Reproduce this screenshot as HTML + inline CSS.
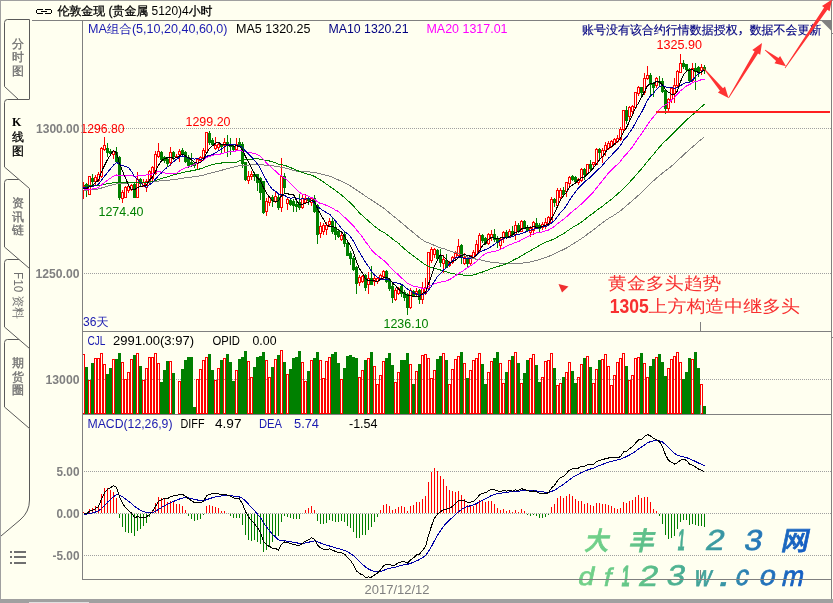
<!DOCTYPE html>
<html><head><meta charset="utf-8"><title>伦敦金现 4小时 K线图</title>
<style>
html,body{margin:0;padding:0;background:#FFFFF0;}
body{width:833px;height:603px;overflow:hidden;position:relative;}
svg{position:absolute;left:0;top:0;display:block;}
svg rect, svg line, svg polyline{shape-rendering:crispEdges;}
</style></head><body>
<svg width="833" height="603" viewBox="0 0 833 603">
<rect x="0" y="0" width="833" height="603" fill="#FFFFF0"/>
<rect x="0" y="0" width="833" height="1" fill="#A0A0A0"/>
<rect x="0" y="0" width="1" height="603" fill="#A0A0A0"/>
<rect x="0" y="599" width="833" height="4" fill="#A0A0A0"/>
<rect x="29" y="602" width="60" height="1" fill="#E0E0E0"/>
<rect x="831" y="0" width="1" height="599" fill="#808080"/>
<rect x="832" y="33" width="1" height="1" fill="#808080"/>
<rect x="32" y="20" width="800" height="1" fill="#808080"/>
<rect x="82" y="20" width="1" height="560" fill="#808080"/>
<rect x="82" y="331" width="750" height="1" fill="#808080"/>
<rect x="82" y="414" width="750" height="1" fill="#808080"/>
<rect x="82" y="579" width="750" height="1" fill="#808080"/>
<rect x="700" y="322" width="1" height="9" fill="#808080"/>
<rect x="700" y="405" width="1" height="9" fill="#808080"/>
<rect x="700" y="570" width="1" height="9" fill="#808080"/>
<polygon points="821.5,21 831,21 831,30.5" fill="#808080"/>
<line x1="84" y1="128.5" x2="831" y2="128.5" stroke="#A0A0A0" stroke-dasharray="1 1"/>
<line x1="84" y1="273.5" x2="831" y2="273.5" stroke="#A0A0A0" stroke-dasharray="1 1"/>
<line x1="84" y1="379.5" x2="831" y2="379.5" stroke="#A0A0A0" stroke-dasharray="1 1"/>
<line x1="84" y1="471.5" x2="831" y2="471.5" stroke="#A0A0A0" stroke-dasharray="1 1"/>
<line x1="84" y1="513.5" x2="831" y2="513.5" stroke="#A0A0A0" stroke-dasharray="1 1"/>
<line x1="84" y1="555.5" x2="831" y2="555.5" stroke="#A0A0A0" stroke-dasharray="1 1"/>
<path d="M18.5,99.5 L4.5,86.5 L4.5,22.5 Q4.5,19.5 7.5,19.5 L29.5,19.5 L29.5,99.5" fill="#FFFFF0" stroke="#5A5A5A" stroke-width="1"/>
<path d="M29.5,428.5 L4.5,407.0 L4.5,342.5 Q4.5,339.5 7.5,339.5 L29.5,339.5 L29.5,428.5" fill="#FFFFF0" stroke="#5A5A5A" stroke-width="1"/>
<path d="M29.5,348.5 L4.5,327.0 L4.5,262.5 Q4.5,259.5 7.5,259.5 L29.5,259.5 L29.5,348.5" fill="#FFFFF0" stroke="#5A5A5A" stroke-width="1"/>
<path d="M29.5,268.5 L4.5,247.0 L4.5,182.5 Q4.5,179.5 7.5,179.5 L29.5,179.5 L29.5,268.5" fill="#FFFFF0" stroke="#5A5A5A" stroke-width="1"/>
<path d="M29.5,428.5 L29.5,500 Q29.5,512 20,520 L1,536" fill="none" stroke="#5A5A5A" stroke-width="1"/>
<polygon points="4.5,102.5 7.5,99.5 31,99.5 31,190.0 4.5,167.0" fill="#FFFFF0"/>
<path d="M29.5,188.5 L4.5,167.0 L4.5,102.5 Q4.5,99.5 7.5,99.5 L29.5,99.5" fill="#FFFFF0" stroke="#5A5A5A" stroke-width="1"/>
<text x="12" y="47.5" fill="#707070" stroke="#707070" stroke-width="0.3" font-size="12" font-weight="normal" font-family="'Liberation Sans','WenQuanYi Zen Hei','Noto Sans CJK SC',sans-serif">分</text>
<text x="12" y="61.0" fill="#707070" stroke="#707070" stroke-width="0.3" font-size="12" font-weight="normal" font-family="'Liberation Sans','WenQuanYi Zen Hei','Noto Sans CJK SC',sans-serif">时</text>
<text x="12" y="74.5" fill="#707070" stroke="#707070" stroke-width="0.3" font-size="12" font-weight="normal" font-family="'Liberation Sans','WenQuanYi Zen Hei','Noto Sans CJK SC',sans-serif">图</text>
<text x="12" y="126" fill="#000" font-size="12" font-weight="bold" font-family="'Liberation Serif',serif">K</text>
<text x="12" y="141.0" fill="#000" stroke="#000" stroke-width="0.3" font-size="12" font-weight="normal" font-family="'Liberation Sans','WenQuanYi Zen Hei','Noto Sans CJK SC',sans-serif">线</text>
<text x="12" y="154.5" fill="#000" stroke="#000" stroke-width="0.3" font-size="12" font-weight="normal" font-family="'Liberation Sans','WenQuanYi Zen Hei','Noto Sans CJK SC',sans-serif">图</text>
<text x="12" y="207.0" fill="#707070" stroke="#707070" stroke-width="0.3" font-size="12" font-weight="normal" font-family="'Liberation Sans','WenQuanYi Zen Hei','Noto Sans CJK SC',sans-serif">资</text>
<text x="12" y="220.5" fill="#707070" stroke="#707070" stroke-width="0.3" font-size="12" font-weight="normal" font-family="'Liberation Sans','WenQuanYi Zen Hei','Noto Sans CJK SC',sans-serif">讯</text>
<text x="12" y="234.0" fill="#707070" stroke="#707070" stroke-width="0.3" font-size="12" font-weight="normal" font-family="'Liberation Sans','WenQuanYi Zen Hei','Noto Sans CJK SC',sans-serif">链</text>
<text transform="translate(14,272) rotate(90)" fill="#707070" font-size="12" font-family="'Liberation Sans','WenQuanYi Zen Hei','Noto Sans CJK SC',sans-serif" textLength="47" lengthAdjust="spacingAndGlyphs">F10 资料</text>
<text x="12" y="367.0" fill="#707070" stroke="#707070" stroke-width="0.3" font-size="12" font-weight="normal" font-family="'Liberation Sans','WenQuanYi Zen Hei','Noto Sans CJK SC',sans-serif">期</text>
<text x="12" y="380.5" fill="#707070" stroke="#707070" stroke-width="0.3" font-size="12" font-weight="normal" font-family="'Liberation Sans','WenQuanYi Zen Hei','Noto Sans CJK SC',sans-serif">货</text>
<text x="12" y="394.0" fill="#707070" stroke="#707070" stroke-width="0.3" font-size="12" font-weight="normal" font-family="'Liberation Sans','WenQuanYi Zen Hei','Noto Sans CJK SC',sans-serif">圈</text>
<rect x="10" y="551" width="2" height="2" fill="#707070"/>
<rect x="14" y="551" width="12" height="2" fill="#707070"/>
<rect x="10" y="556" width="2" height="2" fill="#707070"/>
<rect x="14" y="556" width="12" height="2" fill="#707070"/>
<rect x="10" y="562" width="2" height="2" fill="#707070"/>
<rect x="14" y="562" width="12" height="2" fill="#707070"/>
<rect x="37" y="9" width="6" height="1" fill="#000"/>
<rect x="36" y="10" width="1" height="3" fill="#000"/>
<rect x="37" y="13" width="6" height="1" fill="#000"/>
<rect x="41" y="11" width="6" height="1" fill="#000"/>
<rect x="45" y="9" width="6" height="1" fill="#000"/>
<rect x="51" y="10" width="1" height="3" fill="#000"/>
<rect x="45" y="13" width="6" height="1" fill="#000"/>
<text x="57.5" y="15" fill="#000" font-size="12" font-weight="normal" font-family="'Liberation Sans','WenQuanYi Zen Hei','Noto Sans CJK SC',sans-serif" textLength="155.0" lengthAdjust="spacingAndGlyphs"><tspan stroke="#000" stroke-width="0.3">伦敦金现 (贵金属</tspan> 5120)4<tspan stroke="#000" stroke-width="0.3">小时</tspan></text>
<text x="88" y="33" fill="#1A1AB0" font-size="12" font-weight="normal" font-family="'Liberation Sans','WenQuanYi Zen Hei','Noto Sans CJK SC',sans-serif" textLength="139.5" lengthAdjust="spacingAndGlyphs">MA组合(5,10,20,40,60,0)</text>
<text x="236" y="33" fill="#000" font-size="12" font-weight="normal" font-family="'Liberation Sans','WenQuanYi Zen Hei',sans-serif" textLength="74.5" lengthAdjust="spacingAndGlyphs">MA5 1320.25</text>
<text x="328.5" y="33" fill="#000080" font-size="12" font-weight="normal" font-family="'Liberation Sans','WenQuanYi Zen Hei',sans-serif" textLength="80.0" lengthAdjust="spacingAndGlyphs">MA10 1320.21</text>
<text x="426.5" y="33" fill="#FF00FF" font-size="12" font-weight="normal" font-family="'Liberation Sans','WenQuanYi Zen Hei',sans-serif" textLength="81.0" lengthAdjust="spacingAndGlyphs">MA20 1317.01</text>
<text x="582" y="33.7" fill="#000080" font-size="12" font-weight="normal" font-family="'Liberation Sans','WenQuanYi Zen Hei','Noto Sans CJK SC',sans-serif" textLength="239.5" lengthAdjust="spacingAndGlyphs" stroke="#000080" stroke-width="0.15">账号没有该合约行情数据授权<tspan font-family="'Noto Sans CJK SC',sans-serif">，</tspan>数据不会更新</text>
<text x="36" y="133" fill="#808080" font-size="12" font-weight="bold" font-family="'Liberation Sans','WenQuanYi Zen Hei',sans-serif" textLength="43.5" lengthAdjust="spacingAndGlyphs">1300.00</text>
<text x="35.5" y="278" fill="#808080" font-size="12" font-weight="bold" font-family="'Liberation Sans','WenQuanYi Zen Hei',sans-serif" textLength="44.0" lengthAdjust="spacingAndGlyphs">1250.00</text>
<text x="45.5" y="384" fill="#808080" font-size="12" font-weight="bold" font-family="'Liberation Sans','WenQuanYi Zen Hei',sans-serif" textLength="34.0" lengthAdjust="spacingAndGlyphs">13000</text>
<text x="56.5" y="476" fill="#808080" font-size="12" font-weight="bold" font-family="'Liberation Sans','WenQuanYi Zen Hei',sans-serif" textLength="23.0" lengthAdjust="spacingAndGlyphs">5.00</text>
<text x="56.5" y="518" fill="#808080" font-size="12" font-weight="bold" font-family="'Liberation Sans','WenQuanYi Zen Hei',sans-serif" textLength="23.0" lengthAdjust="spacingAndGlyphs">0.00</text>
<text x="52.5" y="560" fill="#808080" font-size="12" font-weight="bold" font-family="'Liberation Sans','WenQuanYi Zen Hei',sans-serif" textLength="27.0" lengthAdjust="spacingAndGlyphs">-5.00</text>
<text x="364.5" y="593.5" fill="#808080" font-size="12" font-weight="normal" font-family="'Liberation Sans','WenQuanYi Zen Hei',sans-serif" textLength="65.0" lengthAdjust="spacingAndGlyphs">2017/12/12</text>
<rect x="83" y="182" width="1" height="4" fill="#FF0000"/>
<rect x="83" y="191" width="1" height="8" fill="#FF0000"/>
<rect x="82.5" y="186.5" width="2" height="4" fill="none" stroke="#FF0000"/>
<rect x="86" y="183" width="1" height="14" fill="#008000"/>
<rect x="85" y="184" width="3" height="6" fill="#008000"/>
<rect x="88.5" y="176.5" width="2" height="18" fill="none" stroke="#FF0000"/>
<rect x="92" y="174" width="1" height="11" fill="#008000"/>
<rect x="91" y="178" width="3" height="4" fill="#008000"/>
<rect x="95" y="175" width="1" height="2" fill="#FF0000"/>
<rect x="95" y="182" width="1" height="3" fill="#FF0000"/>
<rect x="94.5" y="177.5" width="2" height="4" fill="none" stroke="#FF0000"/>
<rect x="98" y="172" width="1" height="2" fill="#FF0000"/>
<rect x="98" y="181" width="1" height="1" fill="#FF0000"/>
<rect x="97.5" y="174.5" width="2" height="6" fill="none" stroke="#FF0000"/>
<rect x="101" y="147" width="1" height="1" fill="#FF0000"/>
<rect x="101" y="177" width="1" height="1" fill="#FF0000"/>
<rect x="100.5" y="148.5" width="2" height="28" fill="none" stroke="#FF0000"/>
<rect x="104" y="137" width="1" height="8" fill="#FF0000"/>
<rect x="104" y="150" width="1" height="1" fill="#FF0000"/>
<rect x="103.5" y="145.5" width="2" height="4" fill="none" stroke="#FF0000"/>
<rect x="107" y="143" width="1" height="14" fill="#008000"/>
<rect x="106" y="148" width="3" height="5" fill="#008000"/>
<rect x="110" y="149" width="1" height="7" fill="#008000"/>
<rect x="109" y="151" width="3" height="3" fill="#008000"/>
<rect x="113" y="150" width="1" height="1" fill="#FF0000"/>
<rect x="113" y="155" width="1" height="4" fill="#FF0000"/>
<rect x="112.5" y="151.5" width="2" height="3" fill="none" stroke="#FF0000"/>
<rect x="116" y="147" width="1" height="15" fill="#008000"/>
<rect x="115" y="152" width="3" height="10" fill="#008000"/>
<rect x="119" y="156" width="1" height="44" fill="#008000"/>
<rect x="118" y="157" width="3" height="41" fill="#008000"/>
<rect x="122" y="190" width="1" height="2" fill="#FF0000"/>
<rect x="122" y="199" width="1" height="4" fill="#FF0000"/>
<rect x="121.5" y="192.5" width="2" height="6" fill="none" stroke="#FF0000"/>
<rect x="125" y="186" width="1" height="1" fill="#FF0000"/>
<rect x="124.5" y="187.5" width="2" height="10" fill="none" stroke="#FF0000"/>
<rect x="128" y="183" width="1" height="3" fill="#FF0000"/>
<rect x="128" y="191" width="1" height="2" fill="#FF0000"/>
<rect x="127.5" y="186.5" width="2" height="4" fill="none" stroke="#FF0000"/>
<rect x="131" y="184" width="1" height="1" fill="#FF0000"/>
<rect x="131" y="190" width="1" height="1" fill="#FF0000"/>
<rect x="130.5" y="185.5" width="2" height="4" fill="none" stroke="#FF0000"/>
<rect x="134" y="183" width="1" height="15" fill="#008000"/>
<rect x="133" y="184" width="3" height="14" fill="#008000"/>
<rect x="137" y="172" width="1" height="7" fill="#FF0000"/>
<rect x="136.5" y="179.5" width="2" height="18" fill="none" stroke="#FF0000"/>
<rect x="140" y="178" width="1" height="8" fill="#008000"/>
<rect x="139" y="179" width="3" height="5" fill="#008000"/>
<rect x="143" y="179" width="1" height="3" fill="#FF0000"/>
<rect x="142.5" y="182.5" width="2" height="4" fill="none" stroke="#FF0000"/>
<rect x="146" y="179" width="1" height="2" fill="#FF0000"/>
<rect x="146" y="188" width="1" height="4" fill="#FF0000"/>
<rect x="145.5" y="181.5" width="2" height="6" fill="none" stroke="#FF0000"/>
<rect x="149" y="170" width="1" height="1" fill="#FF0000"/>
<rect x="149" y="182" width="1" height="2" fill="#FF0000"/>
<rect x="148.5" y="171.5" width="2" height="10" fill="none" stroke="#FF0000"/>
<rect x="152" y="166" width="1" height="1" fill="#FF0000"/>
<rect x="152" y="179" width="1" height="2" fill="#FF0000"/>
<rect x="151.5" y="167.5" width="2" height="11" fill="none" stroke="#FF0000"/>
<rect x="155" y="151" width="1" height="3" fill="#FF0000"/>
<rect x="155" y="174" width="1" height="1" fill="#FF0000"/>
<rect x="154.5" y="154.5" width="2" height="19" fill="none" stroke="#FF0000"/>
<rect x="158" y="143" width="1" height="8" fill="#FF0000"/>
<rect x="158" y="157" width="1" height="1" fill="#FF0000"/>
<rect x="157.5" y="151.5" width="2" height="5" fill="none" stroke="#FF0000"/>
<rect x="161" y="151" width="1" height="10" fill="#008000"/>
<rect x="160" y="152" width="3" height="8" fill="#008000"/>
<rect x="164" y="156" width="1" height="7" fill="#008000"/>
<rect x="163" y="157" width="3" height="4" fill="#008000"/>
<rect x="167" y="158" width="1" height="9" fill="#008000"/>
<rect x="166" y="159" width="3" height="5" fill="#008000"/>
<rect x="170" y="147" width="1" height="5" fill="#FF0000"/>
<rect x="170" y="163" width="1" height="3" fill="#FF0000"/>
<rect x="169.5" y="152.5" width="2" height="10" fill="none" stroke="#FF0000"/>
<rect x="173" y="151" width="1" height="9" fill="#008000"/>
<rect x="172" y="152" width="3" height="5" fill="#008000"/>
<rect x="176" y="154" width="1" height="2" fill="#FF0000"/>
<rect x="176" y="157" width="1" height="1" fill="#FF0000"/>
<rect x="175" y="156" width="3" height="1" fill="#FF0000"/>
<rect x="179" y="149" width="1" height="2" fill="#FF0000"/>
<rect x="179" y="155" width="1" height="7" fill="#FF0000"/>
<rect x="178.5" y="151.5" width="2" height="3" fill="none" stroke="#FF0000"/>
<rect x="182" y="148" width="1" height="9" fill="#008000"/>
<rect x="181" y="150" width="3" height="5" fill="#008000"/>
<rect x="185" y="151" width="1" height="12" fill="#008000"/>
<rect x="184" y="152" width="3" height="10" fill="#008000"/>
<rect x="188" y="155" width="1" height="13" fill="#008000"/>
<rect x="187" y="157" width="3" height="9" fill="#008000"/>
<rect x="191" y="153" width="1" height="14" fill="#008000"/>
<rect x="190" y="162" width="3" height="3" fill="#008000"/>
<rect x="194" y="162" width="1" height="6" fill="#008000"/>
<rect x="193" y="163" width="3" height="3" fill="#008000"/>
<rect x="197" y="158" width="1" height="1" fill="#FF0000"/>
<rect x="197" y="164" width="1" height="6" fill="#FF0000"/>
<rect x="196.5" y="159.5" width="2" height="4" fill="none" stroke="#FF0000"/>
<rect x="200" y="156" width="1" height="1" fill="#FF0000"/>
<rect x="200" y="161" width="1" height="2" fill="#FF0000"/>
<rect x="199.5" y="157.5" width="2" height="3" fill="none" stroke="#FF0000"/>
<rect x="203" y="148" width="1" height="2" fill="#FF0000"/>
<rect x="203" y="158" width="1" height="1" fill="#FF0000"/>
<rect x="202.5" y="150.5" width="2" height="7" fill="none" stroke="#FF0000"/>
<rect x="206" y="153" width="1" height="1" fill="#FF0000"/>
<rect x="205.5" y="132.5" width="2" height="20" fill="none" stroke="#FF0000"/>
<rect x="209" y="131" width="1" height="14" fill="#008000"/>
<rect x="208" y="133" width="3" height="10" fill="#008000"/>
<rect x="212" y="138" width="1" height="8" fill="#008000"/>
<rect x="211" y="140" width="3" height="5" fill="#008000"/>
<rect x="215" y="137" width="1" height="8" fill="#FF0000"/>
<rect x="215" y="149" width="1" height="1" fill="#FF0000"/>
<rect x="214.5" y="145.5" width="2" height="3" fill="none" stroke="#FF0000"/>
<rect x="218" y="142" width="1" height="2" fill="#FF0000"/>
<rect x="218" y="148" width="1" height="3" fill="#FF0000"/>
<rect x="217.5" y="144.5" width="2" height="3" fill="none" stroke="#FF0000"/>
<rect x="221" y="144" width="1" height="10" fill="#008000"/>
<rect x="220" y="144" width="3" height="3" fill="#008000"/>
<rect x="224" y="138" width="1" height="4" fill="#FF0000"/>
<rect x="224" y="146" width="1" height="6" fill="#FF0000"/>
<rect x="223.5" y="142.5" width="2" height="3" fill="none" stroke="#FF0000"/>
<rect x="227" y="135" width="1" height="22" fill="#008000"/>
<rect x="226" y="142" width="3" height="4" fill="#008000"/>
<rect x="230" y="138" width="1" height="17" fill="#008000"/>
<rect x="229" y="144" width="3" height="3" fill="#008000"/>
<rect x="233" y="144" width="1" height="7" fill="#008000"/>
<rect x="232" y="146" width="3" height="4" fill="#008000"/>
<rect x="236" y="138" width="1" height="6" fill="#FF0000"/>
<rect x="236" y="150" width="1" height="1" fill="#FF0000"/>
<rect x="235.5" y="144.5" width="2" height="5" fill="none" stroke="#FF0000"/>
<rect x="239" y="138" width="1" height="9" fill="#008000"/>
<rect x="238" y="142" width="3" height="4" fill="#008000"/>
<rect x="242" y="142" width="1" height="26" fill="#008000"/>
<rect x="241" y="144" width="3" height="20" fill="#008000"/>
<rect x="245" y="162" width="1" height="19" fill="#008000"/>
<rect x="244" y="162" width="3" height="18" fill="#008000"/>
<rect x="248" y="171" width="1" height="5" fill="#FF0000"/>
<rect x="248" y="181" width="1" height="3" fill="#FF0000"/>
<rect x="247.5" y="176.5" width="2" height="4" fill="none" stroke="#FF0000"/>
<rect x="251" y="171" width="1" height="3" fill="#FF0000"/>
<rect x="251" y="177" width="1" height="3" fill="#FF0000"/>
<rect x="250.5" y="174.5" width="2" height="2" fill="none" stroke="#FF0000"/>
<rect x="254" y="172" width="1" height="9" fill="#008000"/>
<rect x="253" y="174" width="3" height="3" fill="#008000"/>
<rect x="257" y="174" width="1" height="17" fill="#008000"/>
<rect x="256" y="174" width="3" height="9" fill="#008000"/>
<rect x="260" y="177" width="1" height="23" fill="#008000"/>
<rect x="259" y="178" width="3" height="15" fill="#008000"/>
<rect x="263" y="181" width="1" height="33" fill="#008000"/>
<rect x="262" y="181" width="3" height="32" fill="#008000"/>
<rect x="266" y="198" width="1" height="3" fill="#FF0000"/>
<rect x="266" y="212" width="1" height="4" fill="#FF0000"/>
<rect x="265.5" y="201.5" width="2" height="10" fill="none" stroke="#FF0000"/>
<rect x="269" y="196" width="1" height="1" fill="#FF0000"/>
<rect x="269" y="203" width="1" height="3" fill="#FF0000"/>
<rect x="268.5" y="197.5" width="2" height="5" fill="none" stroke="#FF0000"/>
<rect x="272" y="195" width="1" height="12" fill="#008000"/>
<rect x="271" y="197" width="3" height="4" fill="#008000"/>
<rect x="275" y="191" width="1" height="5" fill="#FF0000"/>
<rect x="275" y="202" width="1" height="1" fill="#FF0000"/>
<rect x="274.5" y="196.5" width="2" height="5" fill="none" stroke="#FF0000"/>
<rect x="278" y="195" width="1" height="15" fill="#008000"/>
<rect x="277" y="197" width="3" height="11" fill="#008000"/>
<rect x="281" y="158" width="1" height="18" fill="#FF0000"/>
<rect x="281" y="208" width="1" height="4" fill="#FF0000"/>
<rect x="280.5" y="176.5" width="2" height="31" fill="none" stroke="#FF0000"/>
<rect x="284" y="173" width="1" height="21" fill="#008000"/>
<rect x="283" y="176" width="3" height="12" fill="#008000"/>
<rect x="287" y="198" width="1" height="1" fill="#FF0000"/>
<rect x="287" y="204" width="1" height="6" fill="#FF0000"/>
<rect x="286.5" y="199.5" width="2" height="4" fill="none" stroke="#FF0000"/>
<rect x="290" y="198" width="1" height="8" fill="#008000"/>
<rect x="289" y="200" width="3" height="5" fill="#008000"/>
<rect x="293" y="199" width="1" height="13" fill="#008000"/>
<rect x="292" y="201" width="3" height="5" fill="#008000"/>
<rect x="296" y="200" width="1" height="12" fill="#008000"/>
<rect x="295" y="204" width="3" height="3" fill="#008000"/>
<rect x="299" y="194" width="1" height="16" fill="#008000"/>
<rect x="298" y="202" width="3" height="6" fill="#008000"/>
<rect x="302" y="194" width="1" height="4" fill="#FF0000"/>
<rect x="302" y="208" width="1" height="1" fill="#FF0000"/>
<rect x="301.5" y="198.5" width="2" height="9" fill="none" stroke="#FF0000"/>
<rect x="305" y="194" width="1" height="4" fill="#FF0000"/>
<rect x="305" y="203" width="1" height="1" fill="#FF0000"/>
<rect x="304.5" y="198.5" width="2" height="4" fill="none" stroke="#FF0000"/>
<rect x="308" y="196" width="1" height="9" fill="#008000"/>
<rect x="307" y="198" width="3" height="3" fill="#008000"/>
<rect x="311" y="197" width="1" height="1" fill="#FF0000"/>
<rect x="311" y="203" width="1" height="3" fill="#FF0000"/>
<rect x="310.5" y="198.5" width="2" height="4" fill="none" stroke="#FF0000"/>
<rect x="314" y="195" width="1" height="18" fill="#008000"/>
<rect x="313" y="198" width="3" height="14" fill="#008000"/>
<rect x="317" y="204" width="1" height="40" fill="#008000"/>
<rect x="316" y="205" width="3" height="30" fill="#008000"/>
<rect x="320" y="222" width="1" height="4" fill="#FF0000"/>
<rect x="320" y="234" width="1" height="4" fill="#FF0000"/>
<rect x="319.5" y="226.5" width="2" height="7" fill="none" stroke="#FF0000"/>
<rect x="323" y="223" width="1" height="2" fill="#FF0000"/>
<rect x="323" y="232" width="1" height="3" fill="#FF0000"/>
<rect x="322.5" y="225.5" width="2" height="6" fill="none" stroke="#FF0000"/>
<rect x="326" y="222" width="1" height="3" fill="#FF0000"/>
<rect x="326" y="230" width="1" height="5" fill="#FF0000"/>
<rect x="325.5" y="225.5" width="2" height="4" fill="none" stroke="#FF0000"/>
<rect x="329" y="218" width="1" height="3" fill="#FF0000"/>
<rect x="329" y="225" width="1" height="2" fill="#FF0000"/>
<rect x="328.5" y="221.5" width="2" height="3" fill="none" stroke="#FF0000"/>
<rect x="332" y="217" width="1" height="17" fill="#008000"/>
<rect x="331" y="221" width="3" height="11" fill="#008000"/>
<rect x="335" y="220" width="1" height="20" fill="#008000"/>
<rect x="334" y="227" width="3" height="8" fill="#008000"/>
<rect x="338" y="229" width="1" height="9" fill="#008000"/>
<rect x="337" y="231" width="3" height="6" fill="#008000"/>
<rect x="341" y="233" width="1" height="2" fill="#FF0000"/>
<rect x="341" y="240" width="1" height="1" fill="#FF0000"/>
<rect x="340.5" y="235.5" width="2" height="4" fill="none" stroke="#FF0000"/>
<rect x="344" y="232" width="1" height="15" fill="#008000"/>
<rect x="343" y="234" width="3" height="10" fill="#008000"/>
<rect x="347" y="241" width="1" height="15" fill="#008000"/>
<rect x="346" y="243" width="3" height="13" fill="#008000"/>
<rect x="350" y="251" width="1" height="14" fill="#008000"/>
<rect x="349" y="253" width="3" height="6" fill="#008000"/>
<rect x="353" y="256" width="1" height="15" fill="#008000"/>
<rect x="352" y="258" width="3" height="12" fill="#008000"/>
<rect x="356" y="266" width="1" height="28" fill="#008000"/>
<rect x="355" y="267" width="3" height="17" fill="#008000"/>
<rect x="359" y="275" width="1" height="2" fill="#FF0000"/>
<rect x="359" y="283" width="1" height="3" fill="#FF0000"/>
<rect x="358.5" y="277.5" width="2" height="5" fill="none" stroke="#FF0000"/>
<rect x="362" y="275" width="1" height="1" fill="#FF0000"/>
<rect x="362" y="282" width="1" height="1" fill="#FF0000"/>
<rect x="361.5" y="276.5" width="2" height="5" fill="none" stroke="#FF0000"/>
<rect x="365" y="274" width="1" height="17" fill="#008000"/>
<rect x="364" y="275" width="3" height="13" fill="#008000"/>
<rect x="368" y="272" width="1" height="6" fill="#FF0000"/>
<rect x="368" y="285" width="1" height="9" fill="#FF0000"/>
<rect x="367.5" y="278.5" width="2" height="6" fill="none" stroke="#FF0000"/>
<rect x="371" y="266" width="1" height="19" fill="#008000"/>
<rect x="370" y="278" width="3" height="7" fill="#008000"/>
<rect x="374" y="276" width="1" height="2" fill="#FF0000"/>
<rect x="374" y="282" width="1" height="4" fill="#FF0000"/>
<rect x="373.5" y="278.5" width="2" height="3" fill="none" stroke="#FF0000"/>
<rect x="377" y="277" width="1" height="1" fill="#FF0000"/>
<rect x="377" y="282" width="1" height="2" fill="#FF0000"/>
<rect x="376.5" y="278.5" width="2" height="3" fill="none" stroke="#FF0000"/>
<rect x="380" y="274" width="1" height="1" fill="#FF0000"/>
<rect x="380" y="279" width="1" height="1" fill="#FF0000"/>
<rect x="379.5" y="275.5" width="2" height="3" fill="none" stroke="#FF0000"/>
<rect x="383" y="270" width="1" height="1" fill="#FF0000"/>
<rect x="383" y="277" width="1" height="2" fill="#FF0000"/>
<rect x="382.5" y="271.5" width="2" height="5" fill="none" stroke="#FF0000"/>
<rect x="386" y="270" width="1" height="13" fill="#008000"/>
<rect x="385" y="271" width="3" height="11" fill="#008000"/>
<rect x="389" y="278" width="1" height="13" fill="#008000"/>
<rect x="388" y="279" width="3" height="10" fill="#008000"/>
<rect x="392" y="284" width="1" height="19" fill="#008000"/>
<rect x="391" y="286" width="3" height="12" fill="#008000"/>
<rect x="395" y="288" width="1" height="2" fill="#FF0000"/>
<rect x="395" y="300" width="1" height="1" fill="#FF0000"/>
<rect x="394.5" y="290.5" width="2" height="9" fill="none" stroke="#FF0000"/>
<rect x="398" y="287" width="1" height="1" fill="#FF0000"/>
<rect x="398" y="294" width="1" height="1" fill="#FF0000"/>
<rect x="397.5" y="288.5" width="2" height="5" fill="none" stroke="#FF0000"/>
<rect x="401" y="284" width="1" height="13" fill="#008000"/>
<rect x="400" y="286" width="3" height="8" fill="#008000"/>
<rect x="404" y="290" width="1" height="11" fill="#008000"/>
<rect x="403" y="292" width="3" height="6" fill="#008000"/>
<rect x="407" y="293" width="1" height="22" fill="#008000"/>
<rect x="406" y="294" width="3" height="14" fill="#008000"/>
<rect x="410" y="288" width="1" height="2" fill="#FF0000"/>
<rect x="410" y="308" width="1" height="1" fill="#FF0000"/>
<rect x="409.5" y="290.5" width="2" height="17" fill="none" stroke="#FF0000"/>
<rect x="413" y="290" width="1" height="7" fill="#008000"/>
<rect x="412" y="291" width="3" height="5" fill="#008000"/>
<rect x="416" y="288" width="1" height="3" fill="#FF0000"/>
<rect x="416" y="295" width="1" height="2" fill="#FF0000"/>
<rect x="415.5" y="291.5" width="2" height="3" fill="none" stroke="#FF0000"/>
<rect x="419" y="289" width="1" height="15" fill="#008000"/>
<rect x="418" y="290" width="3" height="10" fill="#008000"/>
<rect x="422" y="282" width="1" height="6" fill="#FF0000"/>
<rect x="422" y="300" width="1" height="4" fill="#FF0000"/>
<rect x="421.5" y="288.5" width="2" height="11" fill="none" stroke="#FF0000"/>
<rect x="425" y="278" width="1" height="9" fill="#FF0000"/>
<rect x="425" y="294" width="1" height="1" fill="#FF0000"/>
<rect x="424.5" y="287.5" width="2" height="6" fill="none" stroke="#FF0000"/>
<rect x="427.5" y="252.5" width="2" height="36" fill="none" stroke="#FF0000"/>
<rect x="431" y="247" width="1" height="2" fill="#FF0000"/>
<rect x="431" y="261" width="1" height="2" fill="#FF0000"/>
<rect x="430.5" y="249.5" width="2" height="11" fill="none" stroke="#FF0000"/>
<rect x="434" y="248" width="1" height="1" fill="#FF0000"/>
<rect x="434" y="255" width="1" height="3" fill="#FF0000"/>
<rect x="433.5" y="249.5" width="2" height="5" fill="none" stroke="#FF0000"/>
<rect x="437" y="249" width="1" height="11" fill="#008000"/>
<rect x="436" y="250" width="3" height="9" fill="#008000"/>
<rect x="440" y="249" width="1" height="18" fill="#008000"/>
<rect x="439" y="256" width="3" height="7" fill="#008000"/>
<rect x="443" y="255" width="1" height="4" fill="#FF0000"/>
<rect x="443" y="264" width="1" height="9" fill="#FF0000"/>
<rect x="442.5" y="259.5" width="2" height="4" fill="none" stroke="#FF0000"/>
<rect x="446" y="254" width="1" height="14" fill="#008000"/>
<rect x="445" y="260" width="3" height="8" fill="#008000"/>
<rect x="449" y="261" width="1" height="1" fill="#FF0000"/>
<rect x="449" y="266" width="1" height="1" fill="#FF0000"/>
<rect x="448.5" y="262.5" width="2" height="3" fill="none" stroke="#FF0000"/>
<rect x="452" y="256" width="1" height="1" fill="#FF0000"/>
<rect x="452" y="263" width="1" height="1" fill="#FF0000"/>
<rect x="451.5" y="257.5" width="2" height="5" fill="none" stroke="#FF0000"/>
<rect x="455" y="251" width="1" height="2" fill="#FF0000"/>
<rect x="455" y="258" width="1" height="2" fill="#FF0000"/>
<rect x="454.5" y="253.5" width="2" height="4" fill="none" stroke="#FF0000"/>
<rect x="458" y="239" width="1" height="7" fill="#FF0000"/>
<rect x="458" y="256" width="1" height="1" fill="#FF0000"/>
<rect x="457.5" y="246.5" width="2" height="9" fill="none" stroke="#FF0000"/>
<rect x="461" y="244" width="1" height="20" fill="#008000"/>
<rect x="460" y="245" width="3" height="13" fill="#008000"/>
<rect x="464" y="253" width="1" height="4" fill="#FF0000"/>
<rect x="464" y="264" width="1" height="1" fill="#FF0000"/>
<rect x="463.5" y="257.5" width="2" height="6" fill="none" stroke="#FF0000"/>
<rect x="467" y="258" width="1" height="10" fill="#008000"/>
<rect x="466" y="259" width="3" height="5" fill="#008000"/>
<rect x="470" y="264" width="1" height="1" fill="#FF0000"/>
<rect x="469.5" y="255.5" width="2" height="8" fill="none" stroke="#FF0000"/>
<rect x="473" y="250" width="1" height="2" fill="#FF0000"/>
<rect x="472.5" y="252.5" width="2" height="5" fill="none" stroke="#FF0000"/>
<rect x="476" y="240" width="1" height="4" fill="#FF0000"/>
<rect x="476" y="255" width="1" height="1" fill="#FF0000"/>
<rect x="475.5" y="244.5" width="2" height="10" fill="none" stroke="#FF0000"/>
<rect x="479" y="233" width="1" height="2" fill="#FF0000"/>
<rect x="478.5" y="235.5" width="2" height="16" fill="none" stroke="#FF0000"/>
<rect x="482" y="234" width="1" height="9" fill="#008000"/>
<rect x="481" y="235" width="3" height="6" fill="#008000"/>
<rect x="485" y="237" width="1" height="8" fill="#008000"/>
<rect x="484" y="238" width="3" height="6" fill="#008000"/>
<rect x="488" y="233" width="1" height="1" fill="#FF0000"/>
<rect x="488" y="244" width="1" height="1" fill="#FF0000"/>
<rect x="487.5" y="234.5" width="2" height="9" fill="none" stroke="#FF0000"/>
<rect x="491" y="230" width="1" height="4" fill="#FF0000"/>
<rect x="491" y="238" width="1" height="3" fill="#FF0000"/>
<rect x="490.5" y="234.5" width="2" height="3" fill="none" stroke="#FF0000"/>
<rect x="494" y="229" width="1" height="13" fill="#008000"/>
<rect x="493" y="234" width="3" height="6" fill="#008000"/>
<rect x="497" y="236" width="1" height="12" fill="#008000"/>
<rect x="496" y="238" width="3" height="5" fill="#008000"/>
<rect x="500" y="237" width="1" height="2" fill="#FF0000"/>
<rect x="500" y="246" width="1" height="4" fill="#FF0000"/>
<rect x="499.5" y="239.5" width="2" height="6" fill="none" stroke="#FF0000"/>
<rect x="503" y="231" width="1" height="1" fill="#FF0000"/>
<rect x="503" y="239" width="1" height="4" fill="#FF0000"/>
<rect x="502.5" y="232.5" width="2" height="6" fill="none" stroke="#FF0000"/>
<rect x="506" y="230" width="1" height="8" fill="#008000"/>
<rect x="505" y="232" width="3" height="5" fill="#008000"/>
<rect x="509" y="229" width="1" height="2" fill="#FF0000"/>
<rect x="509" y="237" width="1" height="1" fill="#FF0000"/>
<rect x="508.5" y="231.5" width="2" height="5" fill="none" stroke="#FF0000"/>
<rect x="512" y="226" width="1" height="10" fill="#008000"/>
<rect x="511" y="231" width="3" height="4" fill="#008000"/>
<rect x="515" y="221" width="1" height="4" fill="#FF0000"/>
<rect x="515" y="235" width="1" height="5" fill="#FF0000"/>
<rect x="514.5" y="225.5" width="2" height="9" fill="none" stroke="#FF0000"/>
<rect x="518" y="223" width="1" height="10" fill="#008000"/>
<rect x="517" y="225" width="3" height="7" fill="#008000"/>
<rect x="521" y="220" width="1" height="1" fill="#FF0000"/>
<rect x="520.5" y="221.5" width="2" height="10" fill="none" stroke="#FF0000"/>
<rect x="524" y="220" width="1" height="9" fill="#008000"/>
<rect x="523" y="221" width="3" height="8" fill="#008000"/>
<rect x="527" y="225" width="1" height="7" fill="#008000"/>
<rect x="526" y="227" width="3" height="4" fill="#008000"/>
<rect x="530" y="226" width="1" height="2" fill="#FF0000"/>
<rect x="530" y="233" width="1" height="4" fill="#FF0000"/>
<rect x="529.5" y="228.5" width="2" height="4" fill="none" stroke="#FF0000"/>
<rect x="533" y="221" width="1" height="1" fill="#FF0000"/>
<rect x="533" y="231" width="1" height="4" fill="#FF0000"/>
<rect x="532.5" y="222.5" width="2" height="8" fill="none" stroke="#FF0000"/>
<rect x="536" y="218" width="1" height="11" fill="#008000"/>
<rect x="535" y="223" width="3" height="5" fill="#008000"/>
<rect x="539" y="223" width="1" height="9" fill="#008000"/>
<rect x="538" y="225" width="3" height="4" fill="#008000"/>
<rect x="542" y="222" width="1" height="2" fill="#FF0000"/>
<rect x="542" y="228" width="1" height="2" fill="#FF0000"/>
<rect x="541.5" y="224.5" width="2" height="3" fill="none" stroke="#FF0000"/>
<rect x="545" y="218" width="1" height="4" fill="#FF0000"/>
<rect x="545" y="227" width="1" height="2" fill="#FF0000"/>
<rect x="544.5" y="222.5" width="2" height="4" fill="none" stroke="#FF0000"/>
<rect x="548" y="216" width="1" height="1" fill="#FF0000"/>
<rect x="548" y="225" width="1" height="1" fill="#FF0000"/>
<rect x="547.5" y="217.5" width="2" height="7" fill="none" stroke="#FF0000"/>
<rect x="551" y="197" width="1" height="2" fill="#FF0000"/>
<rect x="550.5" y="199.5" width="2" height="23" fill="none" stroke="#FF0000"/>
<rect x="554" y="198" width="1" height="9" fill="#008000"/>
<rect x="553" y="199" width="3" height="4" fill="#008000"/>
<rect x="557" y="188" width="1" height="2" fill="#FF0000"/>
<rect x="556.5" y="190.5" width="2" height="15" fill="none" stroke="#FF0000"/>
<rect x="560" y="188" width="1" height="2" fill="#FF0000"/>
<rect x="560" y="198" width="1" height="1" fill="#FF0000"/>
<rect x="559.5" y="190.5" width="2" height="7" fill="none" stroke="#FF0000"/>
<rect x="563" y="187" width="1" height="10" fill="#008000"/>
<rect x="562" y="190" width="3" height="5" fill="#008000"/>
<rect x="566" y="192" width="1" height="5" fill="#FF0000"/>
<rect x="565.5" y="182.5" width="2" height="9" fill="none" stroke="#FF0000"/>
<rect x="569" y="176" width="1" height="1" fill="#FF0000"/>
<rect x="569" y="184" width="1" height="2" fill="#FF0000"/>
<rect x="568.5" y="177.5" width="2" height="6" fill="none" stroke="#FF0000"/>
<rect x="572" y="175" width="1" height="6" fill="#008000"/>
<rect x="571" y="176" width="3" height="4" fill="#008000"/>
<rect x="575" y="176" width="1" height="7" fill="#008000"/>
<rect x="574" y="177" width="3" height="5" fill="#008000"/>
<rect x="578" y="178" width="1" height="1" fill="#FF0000"/>
<rect x="578" y="183" width="1" height="2" fill="#FF0000"/>
<rect x="577.5" y="179.5" width="2" height="3" fill="none" stroke="#FF0000"/>
<rect x="581" y="168" width="1" height="1" fill="#FF0000"/>
<rect x="581" y="181" width="1" height="1" fill="#FF0000"/>
<rect x="580.5" y="169.5" width="2" height="11" fill="none" stroke="#FF0000"/>
<rect x="584" y="168" width="1" height="12" fill="#008000"/>
<rect x="583" y="169" width="3" height="6" fill="#008000"/>
<rect x="587" y="174" width="1" height="1" fill="#FF0000"/>
<rect x="586.5" y="164.5" width="2" height="9" fill="none" stroke="#FF0000"/>
<rect x="590" y="160" width="1" height="11" fill="#008000"/>
<rect x="589" y="164" width="3" height="5" fill="#008000"/>
<rect x="593" y="165" width="1" height="3" fill="#FF0000"/>
<rect x="592.5" y="162.5" width="2" height="2" fill="none" stroke="#FF0000"/>
<rect x="596" y="148" width="1" height="1" fill="#FF0000"/>
<rect x="595.5" y="149.5" width="2" height="15" fill="none" stroke="#FF0000"/>
<rect x="599" y="148" width="1" height="11" fill="#008000"/>
<rect x="598" y="149" width="3" height="4" fill="#008000"/>
<rect x="602" y="148" width="1" height="2" fill="#FF0000"/>
<rect x="602" y="157" width="1" height="6" fill="#FF0000"/>
<rect x="601.5" y="150.5" width="2" height="6" fill="none" stroke="#FF0000"/>
<rect x="605" y="142" width="1" height="3" fill="#FF0000"/>
<rect x="605" y="151" width="1" height="5" fill="#FF0000"/>
<rect x="604.5" y="145.5" width="2" height="5" fill="none" stroke="#FF0000"/>
<rect x="608" y="141" width="1" height="2" fill="#FF0000"/>
<rect x="608" y="149" width="1" height="1" fill="#FF0000"/>
<rect x="607.5" y="143.5" width="2" height="5" fill="none" stroke="#FF0000"/>
<rect x="611" y="140" width="1" height="1" fill="#FF0000"/>
<rect x="611" y="147" width="1" height="1" fill="#FF0000"/>
<rect x="610.5" y="141.5" width="2" height="5" fill="none" stroke="#FF0000"/>
<rect x="614" y="138" width="1" height="1" fill="#FF0000"/>
<rect x="613.5" y="139.5" width="2" height="5" fill="none" stroke="#FF0000"/>
<rect x="617" y="135" width="1" height="3" fill="#FF0000"/>
<rect x="617" y="142" width="1" height="1" fill="#FF0000"/>
<rect x="616.5" y="138.5" width="2" height="3" fill="none" stroke="#FF0000"/>
<rect x="620" y="127" width="1" height="2" fill="#FF0000"/>
<rect x="620" y="140" width="1" height="1" fill="#FF0000"/>
<rect x="619.5" y="129.5" width="2" height="10" fill="none" stroke="#FF0000"/>
<rect x="623" y="130" width="1" height="2" fill="#FF0000"/>
<rect x="622.5" y="110.5" width="2" height="19" fill="none" stroke="#FF0000"/>
<rect x="626" y="106" width="1" height="18" fill="#008000"/>
<rect x="625" y="110" width="3" height="11" fill="#008000"/>
<rect x="629" y="106" width="1" height="1" fill="#FF0000"/>
<rect x="629" y="117" width="1" height="4" fill="#FF0000"/>
<rect x="628.5" y="107.5" width="2" height="9" fill="none" stroke="#FF0000"/>
<rect x="632" y="105" width="1" height="1" fill="#FF0000"/>
<rect x="632" y="112" width="1" height="2" fill="#FF0000"/>
<rect x="631.5" y="106.5" width="2" height="5" fill="none" stroke="#FF0000"/>
<rect x="635" y="108" width="1" height="1" fill="#FF0000"/>
<rect x="634.5" y="92.5" width="2" height="15" fill="none" stroke="#FF0000"/>
<rect x="638" y="86" width="1" height="1" fill="#FF0000"/>
<rect x="638" y="94" width="1" height="2" fill="#FF0000"/>
<rect x="637.5" y="87.5" width="2" height="6" fill="none" stroke="#FF0000"/>
<rect x="641" y="87" width="1" height="9" fill="#008000"/>
<rect x="640" y="87" width="3" height="6" fill="#008000"/>
<rect x="644" y="73" width="1" height="5" fill="#FF0000"/>
<rect x="644" y="93" width="1" height="2" fill="#FF0000"/>
<rect x="643.5" y="78.5" width="2" height="14" fill="none" stroke="#FF0000"/>
<rect x="647" y="66" width="1" height="9" fill="#FF0000"/>
<rect x="647" y="79" width="1" height="1" fill="#FF0000"/>
<rect x="646.5" y="75.5" width="2" height="3" fill="none" stroke="#FF0000"/>
<rect x="650" y="73" width="1" height="24" fill="#008000"/>
<rect x="649" y="75" width="3" height="10" fill="#008000"/>
<rect x="653" y="82" width="1" height="15" fill="#008000"/>
<rect x="652" y="84" width="3" height="4" fill="#008000"/>
<rect x="656" y="77" width="1" height="1" fill="#FF0000"/>
<rect x="656" y="86" width="1" height="2" fill="#FF0000"/>
<rect x="655.5" y="78.5" width="2" height="7" fill="none" stroke="#FF0000"/>
<rect x="659" y="76" width="1" height="10" fill="#008000"/>
<rect x="658" y="81" width="3" height="2" fill="#008000"/>
<rect x="662" y="78" width="1" height="15" fill="#008000"/>
<rect x="661" y="81" width="3" height="11" fill="#008000"/>
<rect x="665" y="90" width="1" height="24" fill="#008000"/>
<rect x="664" y="90" width="3" height="19" fill="#008000"/>
<rect x="668" y="98" width="1" height="1" fill="#FF0000"/>
<rect x="668" y="109" width="1" height="3" fill="#FF0000"/>
<rect x="667.5" y="99.5" width="2" height="9" fill="none" stroke="#FF0000"/>
<rect x="671" y="87" width="1" height="1" fill="#FF0000"/>
<rect x="671" y="100" width="1" height="3" fill="#FF0000"/>
<rect x="670.5" y="88.5" width="2" height="11" fill="none" stroke="#FF0000"/>
<rect x="674" y="78" width="1" height="7" fill="#FF0000"/>
<rect x="674" y="94" width="1" height="9" fill="#FF0000"/>
<rect x="673.5" y="85.5" width="2" height="8" fill="none" stroke="#FF0000"/>
<rect x="677" y="70" width="1" height="1" fill="#FF0000"/>
<rect x="677" y="86" width="1" height="1" fill="#FF0000"/>
<rect x="676.5" y="71.5" width="2" height="14" fill="none" stroke="#FF0000"/>
<rect x="680" y="54" width="1" height="9" fill="#FF0000"/>
<rect x="679.5" y="63.5" width="2" height="9" fill="none" stroke="#FF0000"/>
<rect x="683" y="60" width="1" height="9" fill="#008000"/>
<rect x="682" y="63" width="3" height="4" fill="#008000"/>
<rect x="686" y="64" width="1" height="7" fill="#008000"/>
<rect x="685" y="64" width="3" height="6" fill="#008000"/>
<rect x="689" y="68" width="1" height="14" fill="#008000"/>
<rect x="688" y="69" width="3" height="12" fill="#008000"/>
<rect x="692" y="63" width="1" height="5" fill="#FF0000"/>
<rect x="692" y="81" width="1" height="1" fill="#FF0000"/>
<rect x="691.5" y="68.5" width="2" height="12" fill="none" stroke="#FF0000"/>
<rect x="695" y="63" width="1" height="27" fill="#008000"/>
<rect x="694" y="68" width="3" height="4" fill="#008000"/>
<rect x="698" y="66" width="1" height="11" fill="#008000"/>
<rect x="697" y="67" width="3" height="5" fill="#008000"/>
<rect x="701" y="64" width="1" height="3" fill="#FF0000"/>
<rect x="701" y="71" width="1" height="4" fill="#FF0000"/>
<rect x="700.5" y="67.5" width="2" height="3" fill="none" stroke="#FF0000"/>
<rect x="704" y="65" width="1" height="9" fill="#008000"/>
<rect x="703" y="67" width="3" height="4" fill="#008000"/>
<polyline points="83.5,190.3 86.5,190.2 89.5,189.9 92.5,189.6 95.5,189.3 98.5,188.9 101.5,188.0 104.5,187.1 107.5,186.2 110.5,185.4 113.5,184.5 116.5,183.8 119.5,183.7 122.5,183.5 125.5,183.3 128.5,183.1 131.5,182.8 134.5,182.8 137.5,182.6 140.5,182.4 143.5,182.3 146.5,182.3 149.5,182.1 152.5,181.9 155.5,181.5 158.5,181.1 161.5,180.8 164.5,180.6 167.5,180.4 170.5,180.0 173.5,179.6 176.5,179.2 179.5,178.7 182.5,178.2 185.5,177.8 188.5,177.5 191.5,177.1 194.5,176.7 197.5,176.2 200.5,175.7 203.5,175.1 206.5,174.2 209.5,173.4 212.5,172.7 215.5,172.0 218.5,171.1 221.5,170.3 224.5,169.4 227.5,168.5 230.5,167.8 233.5,167.1 236.5,166.4 239.5,165.7 242.5,165.4 245.5,165.2 248.5,165.1 251.5,164.8 254.5,164.7 257.5,164.6 260.5,164.6 263.5,165.0 266.5,165.2 269.5,165.5 272.5,165.9 275.5,166.2 278.5,166.7 281.5,167.2 284.5,167.9 287.5,168.7 290.5,169.5 293.5,170.4 296.5,171.2 299.5,171.3 302.5,171.4 305.5,171.6 308.5,171.9 311.5,172.1 314.5,172.3 317.5,173.2 320.5,173.9 323.5,174.7 326.5,175.4 329.5,176.2 332.5,177.3 335.5,178.6 338.5,180.0 341.5,181.3 344.5,182.7 347.5,184.2 350.5,186.0 353.5,187.9 356.5,190.0 359.5,192.1 362.5,194.1 365.5,196.2 368.5,198.1 371.5,200.1 374.5,202.0 377.5,204.0 380.5,206.0 383.5,208.0 386.5,210.4 389.5,212.9 392.5,215.4 395.5,217.8 398.5,220.2 401.5,222.7 404.5,225.2 407.5,227.9 410.5,230.3 413.5,232.8 416.5,235.2 419.5,237.8 422.5,239.9 425.5,241.7 428.5,242.9 431.5,244.2 434.5,245.4 437.5,246.7 440.5,247.8 443.5,248.6 446.5,249.7 449.5,250.8 452.5,251.8 455.5,252.7 458.5,253.4 461.5,254.7 464.5,255.9 467.5,257.0 470.5,257.8 473.5,258.6 476.5,259.2 479.5,259.7 482.5,260.4 485.5,261.1 488.5,261.7 491.5,262.3 494.5,262.8 497.5,262.9 500.5,263.1 503.5,263.2 506.5,263.4 509.5,263.6 512.5,263.6 515.5,263.5 518.5,263.4 521.5,263.2 524.5,262.9 527.5,262.5 530.5,262.0 533.5,261.2 536.5,260.3 539.5,259.5 542.5,258.6 545.5,257.5 548.5,256.5 551.5,255.1 554.5,253.8 557.5,252.4 560.5,250.9 563.5,249.6 566.5,248.0 569.5,246.2 572.5,244.2 575.5,242.4 578.5,240.6 581.5,238.5 584.5,236.5 587.5,234.1 590.5,232.0 593.5,229.8 596.5,227.5 599.5,225.0 602.5,222.7 605.5,220.4 608.5,218.5 611.5,216.7 614.5,214.9 617.5,212.9 620.5,210.7 623.5,208.2 626.5,205.7 629.5,203.1 632.5,200.6 635.5,197.9 638.5,195.3 641.5,192.6 644.5,189.6 647.5,186.4 650.5,183.6 653.5,180.8 656.5,178.1 659.5,175.5 662.5,173.1 665.5,170.8 668.5,168.6 671.5,166.1 674.5,163.6 677.5,160.7 680.5,157.8 683.5,155.0 686.5,152.2 689.5,149.7 692.5,146.9 695.5,144.4 698.5,141.7 701.5,139.2 704.5,136.5" fill="none" stroke="#808080" stroke-width="1"/>
<polyline points="83.5,185.9 86.5,186.0 89.5,185.8 92.5,185.9 95.5,185.9 98.5,185.8 101.5,185.1 104.5,184.4 107.5,183.8 110.5,183.3 113.5,182.6 116.5,182.2 119.5,182.6 122.5,182.8 125.5,182.8 128.5,182.8 131.5,182.7 134.5,182.9 137.5,182.7 140.5,182.6 143.5,182.5 146.5,182.4 149.5,182.0 152.5,181.4 155.5,180.5 158.5,179.5 161.5,178.6 164.5,177.6 167.5,176.8 170.5,175.8 173.5,174.9 176.5,174.1 179.5,173.3 182.5,172.6 185.5,171.9 188.5,171.4 191.5,170.8 194.5,170.2 197.5,169.6 200.5,168.7 203.5,167.8 206.5,166.3 209.5,165.5 212.5,164.6 215.5,163.8 218.5,163.0 221.5,163.0 224.5,162.9 227.5,162.7 230.5,162.6 233.5,162.5 236.5,162.1 239.5,160.8 242.5,160.1 245.5,159.9 248.5,159.6 251.5,159.4 254.5,158.8 257.5,158.9 260.5,159.1 263.5,159.9 266.5,160.4 269.5,161.0 272.5,161.8 275.5,162.9 278.5,164.3 281.5,164.7 284.5,165.4 287.5,166.3 290.5,167.6 293.5,168.8 296.5,170.1 299.5,171.5 302.5,172.6 305.5,173.5 308.5,174.4 311.5,175.2 314.5,176.4 317.5,178.3 320.5,180.0 323.5,181.9 326.5,184.2 329.5,186.2 332.5,188.3 335.5,190.5 338.5,192.8 341.5,195.1 344.5,197.6 347.5,200.3 350.5,203.1 353.5,206.1 356.5,209.6 359.5,212.9 362.5,215.7 365.5,218.4 368.5,220.9 371.5,223.7 374.5,226.2 377.5,228.6 380.5,230.7 383.5,232.2 386.5,234.2 389.5,236.5 392.5,238.9 395.5,241.2 398.5,243.2 401.5,246.2 404.5,248.9 407.5,251.6 410.5,253.8 413.5,256.0 416.5,258.2 419.5,260.5 422.5,262.7 425.5,264.9 428.5,266.2 431.5,267.5 434.5,268.5 437.5,269.1 440.5,270.0 443.5,270.9 446.5,271.9 449.5,272.9 452.5,273.6 455.5,274.1 458.5,274.3 461.5,274.8 464.5,275.2 467.5,275.4 470.5,275.3 473.5,274.9 476.5,274.0 479.5,272.9 482.5,272.0 485.5,270.9 488.5,269.8 491.5,268.5 494.5,267.5 497.5,266.6 500.5,265.7 503.5,264.8 506.5,263.6 509.5,262.2 512.5,260.6 515.5,259.0 518.5,257.6 521.5,255.8 524.5,254.1 527.5,252.1 530.5,250.6 533.5,248.8 536.5,247.2 539.5,245.4 542.5,243.8 545.5,242.2 548.5,241.3 551.5,240.0 554.5,238.9 557.5,237.1 560.5,235.3 563.5,233.7 566.5,231.6 569.5,229.5 572.5,227.5 575.5,225.7 578.5,224.1 581.5,221.9 584.5,219.8 587.5,217.3 590.5,215.1 593.5,212.9 596.5,210.5 599.5,208.4 602.5,206.2 605.5,203.7 608.5,201.5 611.5,199.2 614.5,196.7 617.5,194.1 620.5,191.3 623.5,188.3 626.5,185.4 629.5,182.3 632.5,179.1 635.5,175.7 638.5,172.1 641.5,168.9 644.5,165.2 647.5,161.3 650.5,157.8 653.5,154.4 656.5,150.6 659.5,147.0 662.5,143.7 665.5,140.8 668.5,137.9 671.5,135.1 674.5,132.2 677.5,129.2 680.5,126.0 683.5,122.8 686.5,120.0 689.5,117.5 692.5,114.8 695.5,112.0 698.5,109.3 701.5,106.8 704.5,104.2" fill="none" stroke="#008000" stroke-width="1"/>
<polyline points="83.5,189.7 86.5,189.8 89.5,189.3 92.5,189.0 95.5,188.4 98.5,187.4 101.5,185.0 104.5,182.4 107.5,180.2 110.5,178.2 113.5,176.2 116.5,175.0 119.5,175.6 122.5,175.9 125.5,176.0 128.5,175.9 131.5,175.8 134.5,176.3 137.5,176.0 140.5,175.5 143.5,175.3 146.5,174.9 149.5,174.6 152.5,173.9 155.5,172.7 158.5,171.6 161.5,172.2 164.5,172.9 167.5,173.4 170.5,173.4 173.5,173.6 176.5,173.3 179.5,171.1 182.5,169.2 185.5,167.9 188.5,166.8 191.5,165.7 194.5,164.2 197.5,163.1 200.5,161.8 203.5,160.2 206.5,157.8 209.5,156.4 212.5,155.2 215.5,154.8 218.5,154.4 221.5,153.8 224.5,152.9 227.5,152.1 230.5,151.8 233.5,151.4 236.5,150.8 239.5,150.5 242.5,151.0 245.5,151.9 248.5,152.5 251.5,153.0 254.5,153.5 257.5,154.7 260.5,156.4 263.5,159.5 266.5,162.9 269.5,165.7 272.5,168.5 275.5,171.0 278.5,174.2 281.5,175.6 284.5,177.9 287.5,180.6 290.5,183.4 293.5,186.2 296.5,189.3 299.5,192.4 302.5,194.2 305.5,195.1 308.5,196.3 311.5,197.5 314.5,199.2 317.5,201.8 320.5,203.5 323.5,204.2 326.5,205.4 329.5,206.6 332.5,208.2 335.5,210.1 338.5,211.5 341.5,214.5 344.5,217.2 347.5,220.0 350.5,222.8 353.5,226.0 356.5,229.8 359.5,233.3 362.5,237.2 365.5,241.7 368.5,245.6 371.5,249.9 374.5,253.2 377.5,255.4 380.5,257.9 383.5,260.2 386.5,263.0 389.5,266.3 392.5,269.6 395.5,272.4 398.5,275.0 401.5,277.9 404.5,280.6 407.5,283.2 410.5,284.8 413.5,286.1 416.5,286.5 419.5,287.6 422.5,288.2 425.5,288.2 428.5,286.9 431.5,285.2 434.5,283.8 437.5,282.8 440.5,282.1 443.5,281.5 446.5,280.8 449.5,279.6 452.5,277.6 455.5,275.7 458.5,273.6 461.5,271.8 464.5,269.8 467.5,267.6 470.5,265.9 473.5,263.8 476.5,261.4 479.5,258.2 482.5,255.8 485.5,253.6 488.5,252.6 491.5,251.8 494.5,251.3 497.5,250.5 500.5,249.3 503.5,248.0 506.5,246.4 509.5,244.9 512.5,243.7 515.5,242.3 518.5,241.6 521.5,239.8 524.5,238.3 527.5,236.7 530.5,235.3 533.5,233.8 536.5,232.9 539.5,232.6 542.5,231.8 545.5,230.8 548.5,230.0 551.5,228.2 554.5,226.4 557.5,223.8 560.5,221.4 563.5,219.4 566.5,216.8 569.5,214.1 572.5,211.3 575.5,209.1 578.5,206.5 581.5,203.9 584.5,201.2 587.5,198.0 590.5,195.0 593.5,191.9 596.5,188.0 599.5,184.3 602.5,180.6 605.5,176.7 608.5,173.0 611.5,170.1 614.5,167.0 617.5,164.4 620.5,161.3 623.5,157.1 626.5,154.0 629.5,150.5 632.5,146.8 635.5,142.4 638.5,137.8 641.5,133.9 644.5,129.2 647.5,124.7 650.5,120.5 653.5,116.8 656.5,113.2 659.5,109.7 662.5,106.8 665.5,104.9 668.5,102.7 671.5,100.1 674.5,97.4 677.5,94.0 680.5,90.7 683.5,88.5 686.5,85.9 689.5,84.6 692.5,82.7 695.5,81.6 698.5,80.9 701.5,79.6 704.5,79.2" fill="none" stroke="#FF00FF" stroke-width="1"/>
<polyline points="83.5,187.3 86.5,187.5 89.5,186.7 92.5,186.4 95.5,185.6 98.5,184.2 101.5,180.2 104.5,176.1 107.5,172.7 110.5,168.7 113.5,165.2 116.5,162.4 119.5,164.4 122.5,165.4 125.5,166.4 128.5,167.6 131.5,171.4 134.5,176.6 137.5,179.3 140.5,182.3 143.5,185.4 146.5,187.4 149.5,184.8 152.5,182.4 155.5,179.1 158.5,175.6 161.5,172.9 164.5,169.2 167.5,167.5 170.5,164.4 173.5,161.8 176.5,159.3 179.5,157.3 182.5,156.0 185.5,156.7 188.5,158.1 191.5,158.6 194.5,159.1 197.5,158.7 200.5,159.2 203.5,158.7 206.5,156.3 209.5,155.4 212.5,154.5 215.5,152.9 218.5,150.8 221.5,149.1 224.5,146.8 227.5,145.4 230.5,144.3 233.5,144.2 236.5,145.3 239.5,145.7 242.5,147.5 245.5,150.9 248.5,154.1 251.5,156.9 254.5,160.3 257.5,164.0 260.5,168.6 263.5,174.8 266.5,180.5 269.5,185.7 272.5,189.4 275.5,191.1 278.5,194.2 281.5,194.4 284.5,195.5 287.5,197.1 290.5,198.3 293.5,197.6 296.5,198.1 299.5,199.2 302.5,198.9 305.5,199.1 308.5,198.4 311.5,200.6 314.5,203.0 317.5,206.5 320.5,208.8 323.5,210.8 326.5,212.7 329.5,214.1 332.5,217.4 335.5,221.0 338.5,224.6 341.5,228.4 344.5,231.5 347.5,233.6 350.5,236.8 353.5,241.1 356.5,246.9 359.5,252.5 362.5,257.1 365.5,262.3 368.5,266.5 371.5,271.4 374.5,274.9 377.5,277.3 380.5,279.0 383.5,279.2 386.5,279.0 389.5,280.1 392.5,282.2 395.5,282.5 398.5,283.4 401.5,284.3 404.5,286.3 407.5,289.1 410.5,290.6 413.5,293.0 416.5,294.0 419.5,295.1 422.5,294.2 425.5,293.9 428.5,290.4 431.5,286.0 434.5,281.3 437.5,276.4 440.5,273.6 443.5,270.1 446.5,267.6 449.5,264.0 452.5,260.9 455.5,257.5 458.5,256.8 461.5,257.5 464.5,258.3 467.5,258.8 470.5,258.2 473.5,257.4 476.5,255.2 479.5,252.4 482.5,250.7 485.5,249.7 488.5,248.5 491.5,246.2 494.5,244.3 497.5,242.2 500.5,240.5 503.5,238.5 506.5,237.7 509.5,237.3 512.5,236.8 515.5,235.0 518.5,234.8 521.5,233.5 524.5,232.4 527.5,231.2 530.5,230.1 533.5,229.1 536.5,228.2 539.5,227.9 542.5,226.8 545.5,226.6 548.5,225.2 551.5,223.0 554.5,220.4 557.5,216.4 560.5,212.7 563.5,209.8 566.5,205.3 569.5,200.3 572.5,195.8 575.5,191.7 578.5,187.8 581.5,184.9 584.5,182.0 587.5,179.5 590.5,177.2 593.5,174.1 596.5,170.8 599.5,168.3 602.5,165.3 605.5,161.7 608.5,158.1 611.5,155.4 614.5,151.9 617.5,149.2 620.5,145.3 623.5,140.1 626.5,137.2 629.5,132.6 632.5,128.3 635.5,123.0 638.5,117.4 641.5,112.5 644.5,106.5 647.5,100.2 650.5,95.8 653.5,93.4 656.5,89.2 659.5,86.8 662.5,85.3 665.5,86.8 668.5,88.0 671.5,87.6 674.5,88.3 677.5,87.8 680.5,85.7 683.5,83.6 686.5,82.6 689.5,82.4 692.5,80.2 695.5,76.5 698.5,73.7 701.5,71.6 704.5,70.0" fill="none" stroke="#0000A0" stroke-width="1"/>
<polyline points="83.5,188.3 86.5,188.7 89.5,186.6 92.5,185.8 95.5,182.5 98.5,180.1 101.5,171.8 104.5,165.5 107.5,159.6 110.5,154.9 113.5,150.3 116.5,153.0 119.5,163.3 122.5,171.2 125.5,178.0 128.5,185.0 131.5,189.8 134.5,189.8 137.5,187.4 140.5,186.6 143.5,185.8 146.5,185.0 149.5,179.8 152.5,177.3 155.5,171.5 158.5,165.3 161.5,160.8 164.5,158.6 167.5,157.7 170.5,157.3 173.5,158.4 176.5,157.7 179.5,156.0 182.5,154.3 185.5,156.0 188.5,157.8 191.5,159.5 194.5,162.3 197.5,163.2 200.5,162.4 203.5,159.5 206.5,153.2 209.5,148.6 212.5,145.7 215.5,143.3 218.5,142.1 221.5,144.9 224.5,144.9 227.5,145.0 230.5,145.3 233.5,146.3 236.5,145.8 239.5,146.4 242.5,150.0 245.5,156.5 248.5,162.0 251.5,168.0 254.5,174.2 257.5,178.1 260.5,180.6 263.5,187.7 266.5,193.0 269.5,197.2 272.5,200.8 275.5,201.6 278.5,200.8 281.5,195.7 284.5,193.7 287.5,193.5 290.5,195.0 293.5,194.4 296.5,200.5 299.5,204.6 302.5,204.3 305.5,203.3 308.5,202.3 311.5,200.6 314.5,201.4 317.5,208.7 320.5,214.3 323.5,219.4 326.5,224.8 329.5,226.7 332.5,226.1 335.5,227.7 338.5,229.9 341.5,231.9 344.5,236.3 347.5,241.0 350.5,245.8 353.5,252.4 356.5,261.9 359.5,268.8 362.5,273.1 365.5,278.8 368.5,280.7 371.5,280.9 374.5,281.0 377.5,281.5 380.5,279.2 383.5,277.7 386.5,277.1 389.5,279.1 392.5,282.9 395.5,285.7 398.5,289.2 401.5,291.6 404.5,293.5 407.5,295.4 410.5,295.4 413.5,296.8 416.5,296.5 419.5,296.8 422.5,293.1 425.5,292.5 428.5,283.9 431.5,275.6 434.5,265.7 437.5,259.8 440.5,254.8 443.5,256.2 446.5,259.7 449.5,262.2 452.5,262.0 455.5,260.1 458.5,257.4 461.5,255.4 464.5,254.4 467.5,255.6 470.5,256.2 473.5,257.5 476.5,255.0 479.5,250.5 482.5,245.7 485.5,243.2 488.5,239.4 491.5,237.3 494.5,238.1 497.5,238.6 500.5,237.8 503.5,237.6 506.5,238.1 509.5,236.4 512.5,234.9 515.5,232.2 518.5,231.9 521.5,228.9 524.5,228.3 527.5,227.4 530.5,227.9 533.5,226.3 536.5,227.4 539.5,227.4 542.5,226.3 545.5,225.2 548.5,224.2 551.5,218.5 554.5,213.4 557.5,206.5 560.5,200.1 563.5,195.4 566.5,192.2 569.5,187.1 572.5,185.1 575.5,183.2 578.5,180.2 581.5,177.5 584.5,176.9 587.5,174.0 590.5,171.3 593.5,168.0 596.5,164.0 599.5,159.7 602.5,156.7 605.5,152.2 608.5,148.3 611.5,146.8 614.5,144.1 617.5,141.7 620.5,138.4 623.5,131.9 626.5,127.7 629.5,121.2 632.5,114.9 635.5,107.6 638.5,102.9 641.5,97.4 644.5,91.7 647.5,85.6 650.5,83.9 653.5,83.9 656.5,81.1 659.5,81.9 662.5,85.0 665.5,89.6 668.5,92.2 671.5,94.1 674.5,94.7 677.5,90.7 680.5,81.7 683.5,75.0 686.5,71.1 689.5,70.1 692.5,69.6 695.5,71.2 698.5,72.4 701.5,72.1 704.5,70.0" fill="none" stroke="#000000" stroke-width="1"/>
<text x="80.5" y="133" fill="#FF0000" font-size="12" font-weight="normal" font-family="'Liberation Sans','WenQuanYi Zen Hei',sans-serif" textLength="44.0" lengthAdjust="spacingAndGlyphs">1296.80</text>
<text x="185.5" y="125.5" fill="#FF0000" font-size="12" font-weight="normal" font-family="'Liberation Sans','WenQuanYi Zen Hei',sans-serif" textLength="45.0" lengthAdjust="spacingAndGlyphs">1299.20</text>
<text x="656.5" y="48.5" fill="#FF0000" font-size="12" font-weight="normal" font-family="'Liberation Sans','WenQuanYi Zen Hei',sans-serif" textLength="45.5" lengthAdjust="spacingAndGlyphs">1325.90</text>
<text x="98.5" y="216" fill="#008000" font-size="12" font-weight="normal" font-family="'Liberation Sans','WenQuanYi Zen Hei',sans-serif" textLength="45.0" lengthAdjust="spacingAndGlyphs">1274.40</text>
<text x="383.5" y="328" fill="#008000" font-size="12" font-weight="normal" font-family="'Liberation Sans','WenQuanYi Zen Hei',sans-serif" textLength="45.0" lengthAdjust="spacingAndGlyphs">1236.10</text>
<text x="83" y="326" fill="#1A1AB0" font-size="12" font-weight="normal" font-family="'Liberation Sans','WenQuanYi Zen Hei','Noto Sans CJK SC',sans-serif" textLength="25.5" lengthAdjust="spacingAndGlyphs">36天</text>
<rect x="656" y="111" width="174" height="2" fill="#FF2020"/>
<text x="608" y="288.5" fill="#F83030" font-size="17" font-weight="normal" font-family="'Liberation Sans','WenQuanYi Zen Hei','Noto Sans CJK SC',sans-serif" textLength="113.5" lengthAdjust="spacingAndGlyphs">黄金多头趋势</text>
<text x="609.7" y="312.6" fill="#F83030" font-size="19.5" font-weight="bold" font-family="'Liberation Sans','WenQuanYi Zen Hei',sans-serif" textLength="39.0" lengthAdjust="spacingAndGlyphs">1305</text>
<text x="648.5" y="312" fill="#F83030" font-size="17" font-weight="normal" font-family="'Liberation Sans','WenQuanYi Zen Hei','Noto Sans CJK SC',sans-serif" textLength="151.5" lengthAdjust="spacingAndGlyphs">上方构造中继多头</text>
<polygon points="558.5,284 568.5,286.5 562,292.5" fill="#F03030"/>
<polygon points="703.2,68.3 719.9,90.8 717.9,92.5 728.5,98.0 725.0,86.6 723.0,88.3 703.8,67.7" fill="#FF3333"/>
<polygon points="728.8,98.2 758.0,53.4 760.2,54.8 762.0,43.0 752.3,50.0 754.6,51.4 728.2,97.8" fill="#FF3333"/>
<polygon points="764.8,50.3 776.1,61.1 774.5,63.2 786.0,66.3 780.1,55.9 778.5,58.0 765.2,49.7" fill="#FF3333"/>
<polygon points="785.3,68.2 827.4,9.7 829.6,11.2 832.0,-0.5 822.0,6.0 824.1,7.4 784.7,67.8" fill="#FF3333"/>
<text x="87.5" y="344.5" fill="#1A1AB0" font-size="12" font-weight="normal" font-family="'Liberation Sans','WenQuanYi Zen Hei',sans-serif" textLength="18.0" lengthAdjust="spacingAndGlyphs">CJL</text>
<text x="113" y="344.5" fill="#000" font-size="12" font-weight="normal" font-family="'Liberation Sans','WenQuanYi Zen Hei',sans-serif" textLength="81.0" lengthAdjust="spacingAndGlyphs">2991.00(3:97)</text>
<text x="212.5" y="344.5" fill="#000" font-size="12" font-weight="normal" font-family="'Liberation Sans','WenQuanYi Zen Hei',sans-serif" textLength="27.5" lengthAdjust="spacingAndGlyphs">OPID</text>
<text x="252.5" y="344.5" fill="#000" font-size="12" font-weight="normal" font-family="'Liberation Sans','WenQuanYi Zen Hei',sans-serif" textLength="24.0" lengthAdjust="spacingAndGlyphs">0.00</text>
<rect x="82.5" y="354.5" width="2" height="59" fill="none" stroke="#FF0000"/>
<rect x="85" y="367" width="3" height="47" fill="#008000"/>
<rect x="88.5" y="380.5" width="2" height="33" fill="none" stroke="#FF0000"/>
<rect x="91" y="363" width="3" height="51" fill="#008000"/>
<rect x="94.5" y="358.5" width="2" height="55" fill="none" stroke="#FF0000"/>
<rect x="97.5" y="358.5" width="2" height="55" fill="none" stroke="#FF0000"/>
<rect x="100.5" y="353.5" width="2" height="60" fill="none" stroke="#FF0000"/>
<rect x="103.5" y="364.5" width="2" height="49" fill="none" stroke="#FF0000"/>
<rect x="106" y="374" width="3" height="40" fill="#008000"/>
<rect x="109" y="368" width="3" height="46" fill="#008000"/>
<rect x="112.5" y="359.5" width="2" height="54" fill="none" stroke="#FF0000"/>
<rect x="115" y="359" width="3" height="55" fill="#008000"/>
<rect x="118" y="353" width="3" height="61" fill="#008000"/>
<rect x="121.5" y="362.5" width="2" height="51" fill="none" stroke="#FF0000"/>
<rect x="124.5" y="379.5" width="2" height="34" fill="none" stroke="#FF0000"/>
<rect x="127.5" y="372.5" width="2" height="41" fill="none" stroke="#FF0000"/>
<rect x="130.5" y="359.5" width="2" height="54" fill="none" stroke="#FF0000"/>
<rect x="133" y="355" width="3" height="59" fill="#008000"/>
<rect x="136.5" y="353.5" width="2" height="60" fill="none" stroke="#FF0000"/>
<rect x="139" y="366" width="3" height="48" fill="#008000"/>
<rect x="142.5" y="380.5" width="2" height="33" fill="none" stroke="#FF0000"/>
<rect x="145.5" y="368.5" width="2" height="45" fill="none" stroke="#FF0000"/>
<rect x="148.5" y="357.5" width="2" height="56" fill="none" stroke="#FF0000"/>
<rect x="151.5" y="357.5" width="2" height="56" fill="none" stroke="#FF0000"/>
<rect x="154.5" y="353.5" width="2" height="60" fill="none" stroke="#FF0000"/>
<rect x="157.5" y="363.5" width="2" height="50" fill="none" stroke="#FF0000"/>
<rect x="160" y="382" width="3" height="32" fill="#008000"/>
<rect x="163" y="370" width="3" height="44" fill="#008000"/>
<rect x="166" y="361" width="3" height="53" fill="#008000"/>
<rect x="169.5" y="361.5" width="2" height="52" fill="none" stroke="#FF0000"/>
<rect x="172" y="373" width="3" height="41" fill="#008000"/>
<rect x="178.5" y="381.5" width="2" height="32" fill="none" stroke="#FF0000"/>
<rect x="181" y="369" width="3" height="45" fill="#008000"/>
<rect x="184" y="360" width="3" height="54" fill="#008000"/>
<rect x="187" y="357" width="3" height="57" fill="#008000"/>
<rect x="190" y="357" width="3" height="57" fill="#008000"/>
<rect x="193" y="407" width="3" height="7" fill="#008000"/>
<rect x="196.5" y="379.5" width="2" height="34" fill="none" stroke="#FF0000"/>
<rect x="199.5" y="369.5" width="2" height="44" fill="none" stroke="#FF0000"/>
<rect x="202.5" y="360.5" width="2" height="53" fill="none" stroke="#FF0000"/>
<rect x="205.5" y="357.5" width="2" height="56" fill="none" stroke="#FF0000"/>
<rect x="208" y="354" width="3" height="60" fill="#008000"/>
<rect x="211" y="370" width="3" height="44" fill="#008000"/>
<rect x="214.5" y="380.5" width="2" height="33" fill="none" stroke="#FF0000"/>
<rect x="217.5" y="368.5" width="2" height="45" fill="none" stroke="#FF0000"/>
<rect x="220" y="360" width="3" height="54" fill="#008000"/>
<rect x="223.5" y="358.5" width="2" height="55" fill="none" stroke="#FF0000"/>
<rect x="226" y="354" width="3" height="60" fill="#008000"/>
<rect x="229" y="362" width="3" height="52" fill="#008000"/>
<rect x="232" y="381" width="3" height="33" fill="#008000"/>
<rect x="235.5" y="370.5" width="2" height="43" fill="none" stroke="#FF0000"/>
<rect x="238" y="359" width="3" height="55" fill="#008000"/>
<rect x="241" y="357" width="3" height="57" fill="#008000"/>
<rect x="244" y="351" width="3" height="63" fill="#008000"/>
<rect x="247.5" y="361.5" width="2" height="52" fill="none" stroke="#FF0000"/>
<rect x="250.5" y="377.5" width="2" height="36" fill="none" stroke="#FF0000"/>
<rect x="253" y="367" width="3" height="47" fill="#008000"/>
<rect x="256" y="357" width="3" height="57" fill="#008000"/>
<rect x="259" y="356" width="3" height="58" fill="#008000"/>
<rect x="262" y="352" width="3" height="62" fill="#008000"/>
<rect x="265.5" y="360.5" width="2" height="53" fill="none" stroke="#FF0000"/>
<rect x="268.5" y="377.5" width="2" height="36" fill="none" stroke="#FF0000"/>
<rect x="271" y="367" width="3" height="47" fill="#008000"/>
<rect x="274.5" y="359.5" width="2" height="54" fill="none" stroke="#FF0000"/>
<rect x="277" y="355" width="3" height="59" fill="#008000"/>
<rect x="280.5" y="350.5" width="2" height="63" fill="none" stroke="#FF0000"/>
<rect x="283" y="362" width="3" height="52" fill="#008000"/>
<rect x="286.5" y="374.5" width="2" height="39" fill="none" stroke="#FF0000"/>
<rect x="289" y="369" width="3" height="45" fill="#008000"/>
<rect x="292" y="358" width="3" height="56" fill="#008000"/>
<rect x="295" y="357" width="3" height="57" fill="#008000"/>
<rect x="298" y="351" width="3" height="63" fill="#008000"/>
<rect x="301.5" y="362.5" width="2" height="51" fill="none" stroke="#FF0000"/>
<rect x="304.5" y="381.5" width="2" height="32" fill="none" stroke="#FF0000"/>
<rect x="307" y="371" width="3" height="43" fill="#008000"/>
<rect x="310.5" y="360.5" width="2" height="53" fill="none" stroke="#FF0000"/>
<rect x="313" y="358" width="3" height="56" fill="#008000"/>
<rect x="316" y="352" width="3" height="62" fill="#008000"/>
<rect x="319.5" y="360.5" width="2" height="53" fill="none" stroke="#FF0000"/>
<rect x="322.5" y="378.5" width="2" height="35" fill="none" stroke="#FF0000"/>
<rect x="325.5" y="361.5" width="2" height="52" fill="none" stroke="#FF0000"/>
<rect x="328.5" y="357.5" width="2" height="56" fill="none" stroke="#FF0000"/>
<rect x="331" y="354" width="3" height="60" fill="#008000"/>
<rect x="334" y="352" width="3" height="62" fill="#008000"/>
<rect x="337" y="363" width="3" height="51" fill="#008000"/>
<rect x="340.5" y="379.5" width="2" height="34" fill="none" stroke="#FF0000"/>
<rect x="343" y="368" width="3" height="46" fill="#008000"/>
<rect x="346" y="356" width="3" height="58" fill="#008000"/>
<rect x="349" y="355" width="3" height="59" fill="#008000"/>
<rect x="352" y="357" width="3" height="57" fill="#008000"/>
<rect x="355" y="358" width="3" height="56" fill="#008000"/>
<rect x="358.5" y="377.5" width="2" height="36" fill="none" stroke="#FF0000"/>
<rect x="361.5" y="370.5" width="2" height="43" fill="none" stroke="#FF0000"/>
<rect x="364" y="360" width="3" height="54" fill="#008000"/>
<rect x="367.5" y="358.5" width="2" height="55" fill="none" stroke="#FF0000"/>
<rect x="370" y="352" width="3" height="62" fill="#008000"/>
<rect x="373.5" y="366.5" width="2" height="47" fill="none" stroke="#FF0000"/>
<rect x="376.5" y="384.5" width="2" height="29" fill="none" stroke="#FF0000"/>
<rect x="379.5" y="375.5" width="2" height="38" fill="none" stroke="#FF0000"/>
<rect x="382.5" y="361.5" width="2" height="52" fill="none" stroke="#FF0000"/>
<rect x="385" y="358" width="3" height="56" fill="#008000"/>
<rect x="388" y="353" width="3" height="61" fill="#008000"/>
<rect x="391" y="365" width="3" height="49" fill="#008000"/>
<rect x="394.5" y="382.5" width="2" height="31" fill="none" stroke="#FF0000"/>
<rect x="397.5" y="372.5" width="2" height="41" fill="none" stroke="#FF0000"/>
<rect x="400" y="360" width="3" height="54" fill="#008000"/>
<rect x="403" y="360" width="3" height="54" fill="#008000"/>
<rect x="406" y="353" width="3" height="61" fill="#008000"/>
<rect x="409.5" y="364.5" width="2" height="49" fill="none" stroke="#FF0000"/>
<rect x="412" y="384" width="3" height="30" fill="#008000"/>
<rect x="415.5" y="371.5" width="2" height="42" fill="none" stroke="#FF0000"/>
<rect x="418" y="364" width="3" height="50" fill="#008000"/>
<rect x="421.5" y="355.5" width="2" height="58" fill="none" stroke="#FF0000"/>
<rect x="424.5" y="354.5" width="2" height="59" fill="none" stroke="#FF0000"/>
<rect x="427.5" y="358.5" width="2" height="55" fill="none" stroke="#FF0000"/>
<rect x="430.5" y="378.5" width="2" height="35" fill="none" stroke="#FF0000"/>
<rect x="433.5" y="370.5" width="2" height="43" fill="none" stroke="#FF0000"/>
<rect x="436" y="359" width="3" height="55" fill="#008000"/>
<rect x="439" y="356" width="3" height="58" fill="#008000"/>
<rect x="442.5" y="353.5" width="2" height="60" fill="none" stroke="#FF0000"/>
<rect x="445" y="360" width="3" height="54" fill="#008000"/>
<rect x="448.5" y="384.5" width="2" height="29" fill="none" stroke="#FF0000"/>
<rect x="451.5" y="369.5" width="2" height="44" fill="none" stroke="#FF0000"/>
<rect x="454.5" y="359.5" width="2" height="54" fill="none" stroke="#FF0000"/>
<rect x="457.5" y="356.5" width="2" height="57" fill="none" stroke="#FF0000"/>
<rect x="460" y="352" width="3" height="62" fill="#008000"/>
<rect x="463.5" y="363.5" width="2" height="50" fill="none" stroke="#FF0000"/>
<rect x="466" y="378" width="3" height="36" fill="#008000"/>
<rect x="469.5" y="370.5" width="2" height="43" fill="none" stroke="#FF0000"/>
<rect x="472.5" y="360.5" width="2" height="53" fill="none" stroke="#FF0000"/>
<rect x="475.5" y="358.5" width="2" height="55" fill="none" stroke="#FF0000"/>
<rect x="478.5" y="353.5" width="2" height="60" fill="none" stroke="#FF0000"/>
<rect x="481" y="364" width="3" height="50" fill="#008000"/>
<rect x="484" y="384" width="3" height="30" fill="#008000"/>
<rect x="487.5" y="372.5" width="2" height="41" fill="none" stroke="#FF0000"/>
<rect x="490.5" y="361.5" width="2" height="52" fill="none" stroke="#FF0000"/>
<rect x="493" y="358" width="3" height="56" fill="#008000"/>
<rect x="496" y="352" width="3" height="62" fill="#008000"/>
<rect x="499.5" y="363.5" width="2" height="50" fill="none" stroke="#FF0000"/>
<rect x="502.5" y="383.5" width="2" height="30" fill="none" stroke="#FF0000"/>
<rect x="505" y="372" width="3" height="42" fill="#008000"/>
<rect x="508.5" y="360.5" width="2" height="53" fill="none" stroke="#FF0000"/>
<rect x="511" y="356" width="3" height="58" fill="#008000"/>
<rect x="514.5" y="352.5" width="2" height="61" fill="none" stroke="#FF0000"/>
<rect x="517" y="363" width="3" height="51" fill="#008000"/>
<rect x="520.5" y="383.5" width="2" height="30" fill="none" stroke="#FF0000"/>
<rect x="523" y="373" width="3" height="41" fill="#008000"/>
<rect x="526" y="360" width="3" height="54" fill="#008000"/>
<rect x="529.5" y="358.5" width="2" height="55" fill="none" stroke="#FF0000"/>
<rect x="532.5" y="354.5" width="2" height="59" fill="none" stroke="#FF0000"/>
<rect x="535" y="365" width="3" height="49" fill="#008000"/>
<rect x="538" y="382" width="3" height="32" fill="#008000"/>
<rect x="541.5" y="377.5" width="2" height="36" fill="none" stroke="#FF0000"/>
<rect x="544.5" y="361.5" width="2" height="52" fill="none" stroke="#FF0000"/>
<rect x="547.5" y="360.5" width="2" height="53" fill="none" stroke="#FF0000"/>
<rect x="550.5" y="353.5" width="2" height="60" fill="none" stroke="#FF0000"/>
<rect x="553" y="368" width="3" height="46" fill="#008000"/>
<rect x="556.5" y="385.5" width="2" height="28" fill="none" stroke="#FF0000"/>
<rect x="559.5" y="383.5" width="2" height="30" fill="none" stroke="#FF0000"/>
<rect x="562" y="377" width="3" height="37" fill="#008000"/>
<rect x="565.5" y="372.5" width="2" height="41" fill="none" stroke="#FF0000"/>
<rect x="568.5" y="362.5" width="2" height="51" fill="none" stroke="#FF0000"/>
<rect x="571" y="371" width="3" height="43" fill="#008000"/>
<rect x="574" y="383" width="3" height="31" fill="#008000"/>
<rect x="577.5" y="377.5" width="2" height="36" fill="none" stroke="#FF0000"/>
<rect x="580.5" y="364.5" width="2" height="49" fill="none" stroke="#FF0000"/>
<rect x="583" y="358" width="3" height="56" fill="#008000"/>
<rect x="586.5" y="356.5" width="2" height="57" fill="none" stroke="#FF0000"/>
<rect x="589" y="367" width="3" height="47" fill="#008000"/>
<rect x="592.5" y="383.5" width="2" height="30" fill="none" stroke="#FF0000"/>
<rect x="595.5" y="369.5" width="2" height="44" fill="none" stroke="#FF0000"/>
<rect x="598" y="360" width="3" height="54" fill="#008000"/>
<rect x="601.5" y="359.5" width="2" height="54" fill="none" stroke="#FF0000"/>
<rect x="604.5" y="354.5" width="2" height="59" fill="none" stroke="#FF0000"/>
<rect x="607.5" y="366.5" width="2" height="47" fill="none" stroke="#FF0000"/>
<rect x="610.5" y="385.5" width="2" height="28" fill="none" stroke="#FF0000"/>
<rect x="613.5" y="375.5" width="2" height="38" fill="none" stroke="#FF0000"/>
<rect x="616.5" y="362.5" width="2" height="51" fill="none" stroke="#FF0000"/>
<rect x="619.5" y="358.5" width="2" height="55" fill="none" stroke="#FF0000"/>
<rect x="622.5" y="353.5" width="2" height="60" fill="none" stroke="#FF0000"/>
<rect x="625" y="366" width="3" height="48" fill="#008000"/>
<rect x="628.5" y="380.5" width="2" height="33" fill="none" stroke="#FF0000"/>
<rect x="631.5" y="375.5" width="2" height="38" fill="none" stroke="#FF0000"/>
<rect x="634.5" y="358.5" width="2" height="55" fill="none" stroke="#FF0000"/>
<rect x="637.5" y="357.5" width="2" height="56" fill="none" stroke="#FF0000"/>
<rect x="640" y="353" width="3" height="61" fill="#008000"/>
<rect x="643.5" y="363.5" width="2" height="50" fill="none" stroke="#FF0000"/>
<rect x="646.5" y="377.5" width="2" height="36" fill="none" stroke="#FF0000"/>
<rect x="649" y="366" width="3" height="48" fill="#008000"/>
<rect x="652" y="359" width="3" height="55" fill="#008000"/>
<rect x="655.5" y="357.5" width="2" height="56" fill="none" stroke="#FF0000"/>
<rect x="658" y="354" width="3" height="60" fill="#008000"/>
<rect x="661" y="362" width="3" height="52" fill="#008000"/>
<rect x="664" y="376" width="3" height="38" fill="#008000"/>
<rect x="667.5" y="368.5" width="2" height="45" fill="none" stroke="#FF0000"/>
<rect x="670.5" y="359.5" width="2" height="54" fill="none" stroke="#FF0000"/>
<rect x="673.5" y="356.5" width="2" height="57" fill="none" stroke="#FF0000"/>
<rect x="676.5" y="352.5" width="2" height="61" fill="none" stroke="#FF0000"/>
<rect x="679.5" y="362.5" width="2" height="51" fill="none" stroke="#FF0000"/>
<rect x="682" y="379" width="3" height="35" fill="#008000"/>
<rect x="685" y="372" width="3" height="42" fill="#008000"/>
<rect x="688" y="358" width="3" height="56" fill="#008000"/>
<rect x="691.5" y="359.5" width="2" height="54" fill="none" stroke="#FF0000"/>
<rect x="694" y="352" width="3" height="62" fill="#008000"/>
<rect x="697" y="368" width="3" height="46" fill="#008000"/>
<rect x="700.5" y="384.5" width="2" height="29" fill="none" stroke="#FF0000"/>
<rect x="703" y="406" width="3" height="8" fill="#008000"/>
<rect x="700" y="405" width="1" height="9" fill="#808080"/>
<text x="87.5" y="428" fill="#1A1AB0" font-size="12" font-weight="normal" font-family="'Liberation Sans','WenQuanYi Zen Hei',sans-serif" textLength="85.0" lengthAdjust="spacingAndGlyphs">MACD(12,26,9)</text>
<text x="180.5" y="428" fill="#000" font-size="12" font-weight="normal" font-family="'Liberation Sans','WenQuanYi Zen Hei',sans-serif" textLength="24.0" lengthAdjust="spacingAndGlyphs">DIFF</text>
<text x="215" y="428" fill="#000" font-size="12" font-weight="normal" font-family="'Liberation Sans','WenQuanYi Zen Hei',sans-serif" textLength="26.5" lengthAdjust="spacingAndGlyphs">4.97</text>
<text x="259" y="428" fill="#1A1AB0" font-size="12" font-weight="normal" font-family="'Liberation Sans','WenQuanYi Zen Hei',sans-serif" textLength="23.0" lengthAdjust="spacingAndGlyphs">DEA</text>
<text x="294" y="428" fill="#1A1AB0" font-size="12" font-weight="normal" font-family="'Liberation Sans','WenQuanYi Zen Hei',sans-serif" textLength="25.0" lengthAdjust="spacingAndGlyphs">5.74</text>
<text x="349" y="428" fill="#000" font-size="12" font-weight="normal" font-family="'Liberation Sans','WenQuanYi Zen Hei',sans-serif" textLength="28.5" lengthAdjust="spacingAndGlyphs">-1.54</text>
<rect x="83" y="512" width="1" height="1" fill="#FF0000"/>
<rect x="89" y="509" width="1" height="4" fill="#FF0000"/>
<rect x="92" y="508" width="1" height="5" fill="#FF0000"/>
<rect x="95" y="506" width="1" height="7" fill="#FF0000"/>
<rect x="98" y="505" width="1" height="8" fill="#FF0000"/>
<rect x="101" y="494" width="1" height="19" fill="#FF0000"/>
<rect x="104" y="488" width="1" height="25" fill="#FF0000"/>
<rect x="107" y="488" width="1" height="25" fill="#FF0000"/>
<rect x="110" y="490" width="1" height="23" fill="#FF0000"/>
<rect x="113" y="492" width="1" height="21" fill="#FF0000"/>
<rect x="116" y="498" width="1" height="15" fill="#FF0000"/>
<rect x="119" y="514" width="1" height="4" fill="#008000"/>
<rect x="122" y="514" width="1" height="13" fill="#008000"/>
<rect x="125" y="514" width="1" height="18" fill="#008000"/>
<rect x="128" y="514" width="1" height="19" fill="#008000"/>
<rect x="131" y="514" width="1" height="19" fill="#008000"/>
<rect x="134" y="514" width="1" height="22" fill="#008000"/>
<rect x="137" y="514" width="1" height="17" fill="#008000"/>
<rect x="140" y="514" width="1" height="15" fill="#008000"/>
<rect x="143" y="514" width="1" height="12" fill="#008000"/>
<rect x="146" y="514" width="1" height="9" fill="#008000"/>
<rect x="149" y="514" width="1" height="3" fill="#008000"/>
<rect x="152" y="511" width="1" height="2" fill="#FF0000"/>
<rect x="155" y="503" width="1" height="10" fill="#FF0000"/>
<rect x="158" y="497" width="1" height="16" fill="#FF0000"/>
<rect x="161" y="498" width="1" height="15" fill="#FF0000"/>
<rect x="164" y="499" width="1" height="14" fill="#FF0000"/>
<rect x="167" y="502" width="1" height="11" fill="#FF0000"/>
<rect x="170" y="501" width="1" height="12" fill="#FF0000"/>
<rect x="173" y="502" width="1" height="11" fill="#FF0000"/>
<rect x="176" y="504" width="1" height="9" fill="#FF0000"/>
<rect x="179" y="504" width="1" height="9" fill="#FF0000"/>
<rect x="182" y="506" width="1" height="7" fill="#FF0000"/>
<rect x="185" y="510" width="1" height="3" fill="#FF0000"/>
<rect x="188" y="514" width="1" height="2" fill="#008000"/>
<rect x="191" y="514" width="1" height="5" fill="#008000"/>
<rect x="194" y="514" width="1" height="7" fill="#008000"/>
<rect x="197" y="514" width="1" height="6" fill="#008000"/>
<rect x="200" y="514" width="1" height="5" fill="#008000"/>
<rect x="203" y="514" width="1" height="1" fill="#008000"/>
<rect x="206" y="506" width="1" height="7" fill="#FF0000"/>
<rect x="209" y="505" width="1" height="8" fill="#FF0000"/>
<rect x="212" y="506" width="1" height="7" fill="#FF0000"/>
<rect x="215" y="507" width="1" height="6" fill="#FF0000"/>
<rect x="218" y="508" width="1" height="5" fill="#FF0000"/>
<rect x="221" y="511" width="1" height="2" fill="#FF0000"/>
<rect x="224" y="511" width="1" height="2" fill="#FF0000"/>
<rect x="230" y="514" width="1" height="2" fill="#008000"/>
<rect x="233" y="514" width="1" height="4" fill="#008000"/>
<rect x="236" y="514" width="1" height="4" fill="#008000"/>
<rect x="239" y="514" width="1" height="4" fill="#008000"/>
<rect x="242" y="514" width="1" height="11" fill="#008000"/>
<rect x="245" y="514" width="1" height="21" fill="#008000"/>
<rect x="248" y="514" width="1" height="26" fill="#008000"/>
<rect x="251" y="514" width="1" height="27" fill="#008000"/>
<rect x="254" y="514" width="1" height="26" fill="#008000"/>
<rect x="257" y="514" width="1" height="28" fill="#008000"/>
<rect x="260" y="514" width="1" height="30" fill="#008000"/>
<rect x="263" y="514" width="1" height="38" fill="#008000"/>
<rect x="266" y="514" width="1" height="36" fill="#008000"/>
<rect x="269" y="514" width="1" height="32" fill="#008000"/>
<rect x="272" y="514" width="1" height="28" fill="#008000"/>
<rect x="275" y="514" width="1" height="23" fill="#008000"/>
<rect x="278" y="514" width="1" height="22" fill="#008000"/>
<rect x="281" y="514" width="1" height="8" fill="#008000"/>
<rect x="284" y="514" width="1" height="2" fill="#008000"/>
<rect x="287" y="514" width="1" height="3" fill="#008000"/>
<rect x="290" y="514" width="1" height="4" fill="#008000"/>
<rect x="293" y="514" width="1" height="5" fill="#008000"/>
<rect x="296" y="514" width="1" height="5" fill="#008000"/>
<rect x="299" y="514" width="1" height="5" fill="#008000"/>
<rect x="305" y="510" width="1" height="3" fill="#FF0000"/>
<rect x="308" y="508" width="1" height="5" fill="#FF0000"/>
<rect x="311" y="506" width="1" height="7" fill="#FF0000"/>
<rect x="314" y="510" width="1" height="3" fill="#FF0000"/>
<rect x="317" y="514" width="1" height="7" fill="#008000"/>
<rect x="320" y="514" width="1" height="10" fill="#008000"/>
<rect x="323" y="514" width="1" height="10" fill="#008000"/>
<rect x="326" y="514" width="1" height="9" fill="#008000"/>
<rect x="329" y="514" width="1" height="6" fill="#008000"/>
<rect x="332" y="514" width="1" height="7" fill="#008000"/>
<rect x="335" y="514" width="1" height="8" fill="#008000"/>
<rect x="338" y="514" width="1" height="8" fill="#008000"/>
<rect x="341" y="514" width="1" height="7" fill="#008000"/>
<rect x="344" y="514" width="1" height="8" fill="#008000"/>
<rect x="347" y="514" width="1" height="12" fill="#008000"/>
<rect x="350" y="514" width="1" height="14" fill="#008000"/>
<rect x="353" y="514" width="1" height="18" fill="#008000"/>
<rect x="356" y="514" width="1" height="24" fill="#008000"/>
<rect x="359" y="514" width="1" height="24" fill="#008000"/>
<rect x="362" y="514" width="1" height="21" fill="#008000"/>
<rect x="365" y="514" width="1" height="21" fill="#008000"/>
<rect x="368" y="514" width="1" height="16" fill="#008000"/>
<rect x="371" y="514" width="1" height="13" fill="#008000"/>
<rect x="374" y="514" width="1" height="8" fill="#008000"/>
<rect x="377" y="514" width="1" height="3" fill="#008000"/>
<rect x="380" y="510" width="1" height="3" fill="#FF0000"/>
<rect x="383" y="505" width="1" height="8" fill="#FF0000"/>
<rect x="386" y="504" width="1" height="9" fill="#FF0000"/>
<rect x="389" y="506" width="1" height="7" fill="#FF0000"/>
<rect x="392" y="510" width="1" height="3" fill="#FF0000"/>
<rect x="395" y="509" width="1" height="4" fill="#FF0000"/>
<rect x="398" y="507" width="1" height="6" fill="#FF0000"/>
<rect x="401" y="506" width="1" height="7" fill="#FF0000"/>
<rect x="404" y="507" width="1" height="6" fill="#FF0000"/>
<rect x="407" y="511" width="1" height="2" fill="#FF0000"/>
<rect x="410" y="506" width="1" height="7" fill="#FF0000"/>
<rect x="413" y="505" width="1" height="8" fill="#FF0000"/>
<rect x="416" y="502" width="1" height="11" fill="#FF0000"/>
<rect x="419" y="502" width="1" height="11" fill="#FF0000"/>
<rect x="422" y="499" width="1" height="14" fill="#FF0000"/>
<rect x="425" y="496" width="1" height="17" fill="#FF0000"/>
<rect x="428" y="482" width="1" height="31" fill="#FF0000"/>
<rect x="431" y="472" width="1" height="41" fill="#FF0000"/>
<rect x="434" y="468" width="1" height="45" fill="#FF0000"/>
<rect x="437" y="471" width="1" height="42" fill="#FF0000"/>
<rect x="440" y="476" width="1" height="37" fill="#FF0000"/>
<rect x="443" y="479" width="1" height="34" fill="#FF0000"/>
<rect x="446" y="486" width="1" height="27" fill="#FF0000"/>
<rect x="449" y="490" width="1" height="23" fill="#FF0000"/>
<rect x="452" y="491" width="1" height="22" fill="#FF0000"/>
<rect x="455" y="492" width="1" height="21" fill="#FF0000"/>
<rect x="458" y="491" width="1" height="22" fill="#FF0000"/>
<rect x="461" y="495" width="1" height="18" fill="#FF0000"/>
<rect x="464" y="499" width="1" height="14" fill="#FF0000"/>
<rect x="467" y="505" width="1" height="8" fill="#FF0000"/>
<rect x="470" y="506" width="1" height="7" fill="#FF0000"/>
<rect x="473" y="506" width="1" height="7" fill="#FF0000"/>
<rect x="476" y="504" width="1" height="9" fill="#FF0000"/>
<rect x="479" y="500" width="1" height="13" fill="#FF0000"/>
<rect x="482" y="500" width="1" height="13" fill="#FF0000"/>
<rect x="485" y="502" width="1" height="11" fill="#FF0000"/>
<rect x="488" y="501" width="1" height="12" fill="#FF0000"/>
<rect x="491" y="501" width="1" height="12" fill="#FF0000"/>
<rect x="494" y="504" width="1" height="9" fill="#FF0000"/>
<rect x="497" y="508" width="1" height="5" fill="#FF0000"/>
<rect x="500" y="510" width="1" height="3" fill="#FF0000"/>
<rect x="503" y="509" width="1" height="4" fill="#FF0000"/>
<rect x="506" y="511" width="1" height="2" fill="#FF0000"/>
<rect x="509" y="510" width="1" height="3" fill="#FF0000"/>
<rect x="512" y="512" width="1" height="1" fill="#FF0000"/>
<rect x="515" y="510" width="1" height="3" fill="#FF0000"/>
<rect x="518" y="512" width="1" height="1" fill="#FF0000"/>
<rect x="521" y="509" width="1" height="4" fill="#FF0000"/>
<rect x="524" y="511" width="1" height="2" fill="#FF0000"/>
<rect x="527" y="514" width="1" height="1" fill="#008000"/>
<rect x="530" y="514" width="1" height="2" fill="#008000"/>
<rect x="533" y="514" width="1" height="1" fill="#008000"/>
<rect x="536" y="514" width="1" height="2" fill="#008000"/>
<rect x="539" y="514" width="1" height="4" fill="#008000"/>
<rect x="542" y="514" width="1" height="4" fill="#008000"/>
<rect x="545" y="514" width="1" height="3" fill="#008000"/>
<rect x="548" y="514" width="1" height="1" fill="#008000"/>
<rect x="551" y="507" width="1" height="6" fill="#FF0000"/>
<rect x="554" y="504" width="1" height="9" fill="#FF0000"/>
<rect x="557" y="498" width="1" height="15" fill="#FF0000"/>
<rect x="560" y="496" width="1" height="17" fill="#FF0000"/>
<rect x="563" y="498" width="1" height="15" fill="#FF0000"/>
<rect x="566" y="496" width="1" height="17" fill="#FF0000"/>
<rect x="569" y="494" width="1" height="19" fill="#FF0000"/>
<rect x="572" y="496" width="1" height="17" fill="#FF0000"/>
<rect x="575" y="499" width="1" height="14" fill="#FF0000"/>
<rect x="578" y="501" width="1" height="12" fill="#FF0000"/>
<rect x="581" y="501" width="1" height="12" fill="#FF0000"/>
<rect x="584" y="504" width="1" height="9" fill="#FF0000"/>
<rect x="587" y="503" width="1" height="10" fill="#FF0000"/>
<rect x="590" y="505" width="1" height="8" fill="#FF0000"/>
<rect x="593" y="506" width="1" height="7" fill="#FF0000"/>
<rect x="596" y="503" width="1" height="10" fill="#FF0000"/>
<rect x="599" y="503" width="1" height="10" fill="#FF0000"/>
<rect x="602" y="504" width="1" height="9" fill="#FF0000"/>
<rect x="605" y="504" width="1" height="9" fill="#FF0000"/>
<rect x="608" y="505" width="1" height="8" fill="#FF0000"/>
<rect x="611" y="506" width="1" height="7" fill="#FF0000"/>
<rect x="614" y="508" width="1" height="5" fill="#FF0000"/>
<rect x="617" y="509" width="1" height="4" fill="#FF0000"/>
<rect x="620" y="508" width="1" height="5" fill="#FF0000"/>
<rect x="623" y="502" width="1" height="11" fill="#FF0000"/>
<rect x="626" y="503" width="1" height="10" fill="#FF0000"/>
<rect x="629" y="501" width="1" height="12" fill="#FF0000"/>
<rect x="632" y="500" width="1" height="13" fill="#FF0000"/>
<rect x="635" y="497" width="1" height="16" fill="#FF0000"/>
<rect x="638" y="495" width="1" height="18" fill="#FF0000"/>
<rect x="641" y="498" width="1" height="15" fill="#FF0000"/>
<rect x="644" y="497" width="1" height="16" fill="#FF0000"/>
<rect x="647" y="497" width="1" height="16" fill="#FF0000"/>
<rect x="650" y="502" width="1" height="11" fill="#FF0000"/>
<rect x="653" y="509" width="1" height="4" fill="#FF0000"/>
<rect x="656" y="511" width="1" height="2" fill="#FF0000"/>
<rect x="659" y="514" width="1" height="2" fill="#008000"/>
<rect x="662" y="514" width="1" height="10" fill="#008000"/>
<rect x="665" y="514" width="1" height="21" fill="#008000"/>
<rect x="668" y="514" width="1" height="25" fill="#008000"/>
<rect x="671" y="514" width="1" height="24" fill="#008000"/>
<rect x="674" y="514" width="1" height="22" fill="#008000"/>
<rect x="677" y="514" width="1" height="15" fill="#008000"/>
<rect x="680" y="514" width="1" height="8" fill="#008000"/>
<rect x="683" y="514" width="1" height="6" fill="#008000"/>
<rect x="686" y="514" width="1" height="6" fill="#008000"/>
<rect x="689" y="514" width="1" height="11" fill="#008000"/>
<rect x="692" y="514" width="1" height="10" fill="#008000"/>
<rect x="695" y="514" width="1" height="11" fill="#008000"/>
<rect x="698" y="514" width="1" height="12" fill="#008000"/>
<rect x="701" y="514" width="1" height="12" fill="#008000"/>
<rect x="704" y="514" width="1" height="13" fill="#008000"/>
<polyline points="83.5,514.2 86.5,514.2 89.5,513.6 92.5,512.9 95.5,512.0 98.5,510.9 101.5,508.5 104.5,505.4 107.5,502.2 110.5,499.3 113.5,496.6 116.5,494.7 119.5,495.1 122.5,496.8 125.5,498.9 128.5,501.3 131.5,503.6 134.5,506.3 137.5,508.4 140.5,510.2 143.5,511.6 146.5,512.7 149.5,513.0 152.5,512.7 155.5,511.4 158.5,509.4 161.5,507.5 164.5,505.7 167.5,504.3 170.5,502.8 173.5,501.4 176.5,500.2 179.5,499.0 182.5,498.1 185.5,497.7 188.5,497.9 191.5,498.5 194.5,499.3 197.5,500.0 200.5,500.5 203.5,500.7 206.5,499.7 209.5,498.7 212.5,497.7 215.5,496.9 218.5,496.3 221.5,495.9 224.5,495.6 227.5,495.5 230.5,495.7 233.5,496.1 236.5,496.6 239.5,497.0 242.5,498.4 245.5,501.0 248.5,504.2 251.5,507.5 254.5,510.7 257.5,514.1 260.5,517.8 263.5,522.5 266.5,527.0 269.5,530.9 272.5,534.3 275.5,537.1 278.5,539.8 281.5,540.7 284.5,540.9 287.5,541.2 290.5,541.7 293.5,542.3 296.5,542.8 299.5,543.4 302.5,543.3 305.5,542.9 308.5,542.3 311.5,541.4 314.5,540.9 317.5,541.8 320.5,543.0 323.5,544.2 326.5,545.3 329.5,546.0 332.5,546.8 335.5,547.7 338.5,548.7 341.5,549.5 344.5,550.4 347.5,551.8 350.5,553.6 353.5,555.8 356.5,558.8 359.5,561.8 362.5,564.4 365.5,567.0 368.5,569.0 371.5,570.6 374.5,571.5 377.5,571.8 380.5,571.5 383.5,570.4 386.5,569.2 389.5,568.2 392.5,567.7 395.5,567.1 398.5,566.2 401.5,565.4 404.5,564.6 407.5,564.3 410.5,563.4 413.5,562.3 416.5,560.9 419.5,559.5 422.5,557.7 425.5,555.5 428.5,551.5 431.5,546.4 434.5,540.7 437.5,535.4 440.5,530.7 443.5,526.4 446.5,523.0 449.5,520.0 452.5,517.3 455.5,514.6 458.5,511.7 461.5,509.4 464.5,507.7 467.5,506.6 470.5,505.7 473.5,504.8 476.5,503.6 479.5,501.9 482.5,500.1 485.5,498.7 488.5,497.1 491.5,495.5 494.5,494.4 497.5,493.7 500.5,493.2 503.5,492.7 506.5,492.4 509.5,492.0 512.5,491.9 515.5,491.5 518.5,491.3 521.5,490.8 524.5,490.5 527.5,490.5 530.5,490.7 533.5,490.7 536.5,491.0 539.5,491.4 542.5,491.8 545.5,492.2 548.5,492.3 551.5,491.4 554.5,490.2 557.5,488.3 560.5,486.2 563.5,484.3 566.5,482.1 569.5,479.7 572.5,477.5 575.5,475.6 578.5,474.1 581.5,472.5 584.5,471.3 587.5,470.0 590.5,469.0 593.5,468.1 596.5,466.8 599.5,465.5 602.5,464.4 605.5,463.2 608.5,462.2 611.5,461.3 614.5,460.5 617.5,460.0 620.5,459.3 623.5,457.9 626.5,456.6 629.5,455.0 632.5,453.4 635.5,451.3 638.5,449.0 641.5,447.1 644.5,445.0 647.5,442.9 650.5,441.5 653.5,440.9 656.5,440.6 659.5,440.8 662.5,442.0 665.5,444.6 668.5,447.7 671.5,450.7 674.5,453.3 677.5,455.2 680.5,456.2 683.5,456.8 686.5,457.5 689.5,458.9 692.5,460.1 695.5,461.5 698.5,463.0 701.5,464.4 704.5,466.0" fill="none" stroke="#0000A8" stroke-width="1"/>
<polyline points="83.5,513.7 86.5,513.9 89.5,511.2 92.5,510.3 95.5,508.5 98.5,506.6 101.5,499.0 104.5,492.6 107.5,489.5 110.5,487.6 113.5,485.9 116.5,487.2 119.5,496.8 122.5,503.3 125.5,507.5 128.5,510.6 131.5,512.9 134.5,517.4 137.5,516.8 140.5,517.3 143.5,517.3 146.5,517.0 149.5,514.4 152.5,511.5 155.5,506.2 158.5,501.5 161.5,499.7 164.5,498.6 167.5,498.7 170.5,496.5 173.5,495.9 176.5,495.5 179.5,494.3 182.5,494.4 185.5,496.2 188.5,498.7 191.5,500.7 194.5,502.6 197.5,502.8 200.5,502.7 203.5,501.2 206.5,496.0 209.5,494.3 212.5,493.8 215.5,493.8 218.5,493.8 221.5,494.6 224.5,494.4 227.5,495.1 230.5,496.3 233.5,497.9 236.5,498.3 239.5,499.0 242.5,503.8 245.5,511.5 248.5,516.9 251.5,520.5 254.5,523.8 257.5,527.7 260.5,532.7 263.5,541.1 266.5,544.8 269.5,546.5 272.5,548.2 275.5,548.2 278.5,550.4 281.5,544.4 284.5,541.9 287.5,542.4 290.5,543.6 293.5,544.4 296.5,545.1 299.5,545.5 302.5,543.2 305.5,541.2 308.5,539.8 311.5,537.8 314.5,539.2 317.5,545.2 320.5,547.7 323.5,549.1 326.5,549.7 329.5,548.9 332.5,550.1 335.5,551.5 338.5,552.5 341.5,552.6 344.5,554.1 347.5,557.5 350.5,560.5 353.5,564.8 356.5,570.9 359.5,573.6 362.5,574.8 365.5,577.5 368.5,577.0 371.5,577.1 374.5,575.1 377.5,573.0 380.5,570.0 383.5,565.9 386.5,564.4 389.5,564.3 392.5,565.8 395.5,564.7 398.5,562.8 401.5,561.9 404.5,561.7 407.5,563.2 410.5,559.8 413.5,557.9 416.5,555.0 419.5,554.0 422.5,550.3 425.5,546.7 428.5,535.6 431.5,525.9 434.5,518.1 437.5,514.1 440.5,511.8 443.5,509.4 446.5,509.3 449.5,508.2 452.5,506.3 455.5,503.8 458.5,500.3 461.5,500.3 464.5,500.6 467.5,502.4 470.5,502.1 473.5,501.2 476.5,498.8 479.5,495.0 482.5,493.2 485.5,492.9 488.5,490.7 491.5,489.3 494.5,489.6 497.5,491.0 500.5,491.5 503.5,490.7 506.5,491.1 509.5,490.5 512.5,491.2 515.5,489.9 518.5,490.4 521.5,488.8 524.5,489.4 527.5,490.6 530.5,491.3 533.5,491.0 536.5,491.9 539.5,493.2 542.5,493.5 545.5,493.6 548.5,492.7 551.5,488.0 554.5,485.4 557.5,480.8 560.5,477.7 563.5,476.5 566.5,473.3 569.5,470.1 572.5,468.6 575.5,468.3 578.5,468.1 581.5,466.2 584.5,466.4 587.5,464.9 590.5,465.0 593.5,464.4 596.5,461.4 599.5,460.5 602.5,459.7 605.5,458.7 608.5,458.0 611.5,457.7 614.5,457.6 617.5,457.8 620.5,456.6 623.5,452.0 626.5,451.4 629.5,448.6 632.5,446.9 635.5,443.2 638.5,439.8 641.5,439.3 644.5,436.5 647.5,434.5 650.5,435.9 653.5,438.4 656.5,439.4 659.5,441.8 662.5,446.6 665.5,454.9 668.5,460.3 671.5,462.4 674.5,464.0 677.5,462.6 680.5,460.1 683.5,459.4 686.5,460.3 689.5,464.2 692.5,465.1 695.5,467.0 698.5,469.0 701.5,470.2 704.5,472.2" fill="none" stroke="#000000" stroke-width="1"/>
<defs>
<linearGradient id="wg0" x1="0" y1="0" x2="1" y2="0"><stop offset="0" stop-color="#72D288"/><stop offset="1" stop-color="#6ACB88"/></linearGradient>
<linearGradient id="wg1" x1="0" y1="0" x2="1" y2="0"><stop offset="0" stop-color="#65C788"/><stop offset="1" stop-color="#58BA8C"/></linearGradient>
<linearGradient id="wg2" x1="0" y1="0" x2="1" y2="0"><stop offset="0" stop-color="#4BAF92"/><stop offset="1" stop-color="#48AB94"/></linearGradient>
<linearGradient id="wg3" x1="0" y1="0" x2="1" y2="0"><stop offset="0" stop-color="#40A19C"/><stop offset="1" stop-color="#3692A6"/></linearGradient>
<linearGradient id="wg4" x1="0" y1="0" x2="1" y2="0"><stop offset="0" stop-color="#2C82B1"/><stop offset="1" stop-color="#2373BA"/></linearGradient>
<linearGradient id="wg5" x1="0" y1="0" x2="1" y2="0"><stop offset="0" stop-color="#1C69BE"/><stop offset="1" stop-color="#135CC4"/></linearGradient>
<linearGradient id="wg6" x1="0" y1="0" x2="1" y2="0"><stop offset="0" stop-color="#72D288"/><stop offset="1" stop-color="#6FCF88"/></linearGradient>
<linearGradient id="wg7" x1="0" y1="0" x2="1" y2="0"><stop offset="0" stop-color="#6DCD88"/><stop offset="1" stop-color="#6ACB88"/></linearGradient>
<linearGradient id="wg8" x1="0" y1="0" x2="1" y2="0"><stop offset="0" stop-color="#67C988"/><stop offset="1" stop-color="#65C688"/></linearGradient>
<linearGradient id="wg9" x1="0" y1="0" x2="1" y2="0"><stop offset="0" stop-color="#62C488"/><stop offset="1" stop-color="#56B98D"/></linearGradient>
<linearGradient id="wg10" x1="0" y1="0" x2="1" y2="0"><stop offset="0" stop-color="#52B68F"/><stop offset="1" stop-color="#47AB95"/></linearGradient>
<linearGradient id="wg11" x1="0" y1="0" x2="1" y2="0"><stop offset="0" stop-color="#45A797"/><stop offset="1" stop-color="#3D9D9F"/></linearGradient>
<linearGradient id="wg12" x1="0" y1="0" x2="1" y2="0"><stop offset="0" stop-color="#3997A3"/><stop offset="1" stop-color="#3692A7"/></linearGradient>
<linearGradient id="wg13" x1="0" y1="0" x2="1" y2="0"><stop offset="0" stop-color="#318AAC"/><stop offset="1" stop-color="#297CB5"/></linearGradient>
<linearGradient id="wg14" x1="0" y1="0" x2="1" y2="0"><stop offset="0" stop-color="#2476B9"/><stop offset="1" stop-color="#1E6CBD"/></linearGradient>
<linearGradient id="wg15" x1="0" y1="0" x2="1" y2="0"><stop offset="0" stop-color="#1C69BE"/><stop offset="1" stop-color="#135DC4"/></linearGradient>
</defs>
<g>
<text transform="translate(583.91,550.12) skewX(-12) scale(0.2435,0.2532)" font-size="100" font-weight="500" font-family="'Noto Sans CJK SC',sans-serif" fill="url(#wg0)" stroke="url(#wg0)" stroke-width="2.82">大</text>
<text transform="translate(627.99,550.12) skewX(-12) scale(0.2587,0.2532)" font-size="100" font-weight="500" font-family="'Noto Sans CJK SC',sans-serif" fill="url(#wg1)" stroke="url(#wg1)" stroke-width="2.73">丰</text>
<text transform="translate(677.27,550.40) skewX(-5) scale(0.1216,0.2957)" font-size="100" font-weight="bold" font-family="'Liberation Sans',sans-serif" fill="url(#wg2)" stroke="url(#wg2)" stroke-width="3.36">1</text>
<text transform="translate(704.22,550.40) skewX(-12) scale(0.3366,0.2900)" font-size="100" font-weight="normal" font-family="'Liberation Sans',sans-serif" fill="url(#wg3)" stroke="url(#wg3)" stroke-width="2.23">2</text>
<text transform="translate(743.10,550.11) skewX(-12) scale(0.3197,0.2873)" font-size="100" font-weight="normal" font-family="'Liberation Sans',sans-serif" fill="url(#wg4)" stroke="url(#wg4)" stroke-width="2.31">3</text>
<text transform="translate(780.21,550.01) skewX(-12) scale(0.2753,0.2659)" font-size="100" font-weight="500" font-family="'Noto Sans CJK SC',sans-serif" fill="url(#wg5)" stroke="url(#wg5)" stroke-width="2.59">网</text>
<text transform="translate(576.90,585.45) skewX(-12) scale(0.2897,0.2527)" font-size="100" font-weight="normal" font-family="'Liberation Sans',sans-serif" fill="url(#wg6)" stroke="url(#wg6)" stroke-width="2.58">d</text>
<text transform="translate(602.53,585.70) skewX(-12) scale(0.2676,0.2562)" font-size="100" font-weight="normal" font-family="'Liberation Sans',sans-serif" fill="url(#wg7)" stroke="url(#wg7)" stroke-width="2.67">f</text>
<text transform="translate(620.93,585.70) skewX(-5) scale(0.1454,0.2928)" font-size="100" font-weight="bold" font-family="'Liberation Sans',sans-serif" fill="url(#wg8)" stroke="url(#wg8)" stroke-width="3.20">1</text>
<text transform="translate(637.27,585.70) skewX(-12) scale(0.3458,0.2886)" font-size="100" font-weight="normal" font-family="'Liberation Sans',sans-serif" fill="url(#wg9)" stroke="url(#wg9)" stroke-width="2.21">2</text>
<text transform="translate(665.39,585.42) skewX(-12) scale(0.3246,0.2845)" font-size="100" font-weight="normal" font-family="'Liberation Sans',sans-serif" fill="url(#wg10)" stroke="url(#wg10)" stroke-width="2.30">3</text>
<text transform="translate(693.33,585.70) skewX(-12) scale(0.2295,0.2943)" font-size="100" font-weight="normal" font-family="'Liberation Sans',sans-serif" fill="url(#wg11)" stroke="url(#wg11)" stroke-width="2.67">w</text>
<text transform="translate(716.20,585.70) skewX(-12) scale(0.4671,0.3545)" font-size="100" font-weight="normal" font-family="'Liberation Sans',sans-serif" fill="url(#wg12)" stroke="url(#wg12)" stroke-width="1.70">.</text>
<text transform="translate(734.22,585.42) skewX(-12) scale(0.2610,0.2836)" font-size="100" font-weight="normal" font-family="'Liberation Sans',sans-serif" fill="url(#wg13)" stroke="url(#wg13)" stroke-width="2.57">c</text>
<text transform="translate(758.30,585.42) skewX(-12) scale(0.2893,0.2836)" font-size="100" font-weight="normal" font-family="'Liberation Sans',sans-serif" fill="url(#wg14)" stroke="url(#wg14)" stroke-width="2.44">o</text>
<text transform="translate(780.43,585.70) skewX(-12) scale(0.2617,0.2889)" font-size="100" font-weight="normal" font-family="'Liberation Sans',sans-serif" fill="url(#wg15)" stroke="url(#wg15)" stroke-width="2.54">m</text>
</g>
<rect x="82" y="579" width="750" height="1" fill="#808080"/>
<rect x="700" y="570" width="1" height="9" fill="#808080"/>
<rect x="82" y="20" width="1" height="560" fill="#808080"/>
<rect x="832" y="33" width="1" height="1" fill="#808080"/>
<rect x="832" y="337" width="1" height="1" fill="#808080"/>
</svg>
</body></html>
